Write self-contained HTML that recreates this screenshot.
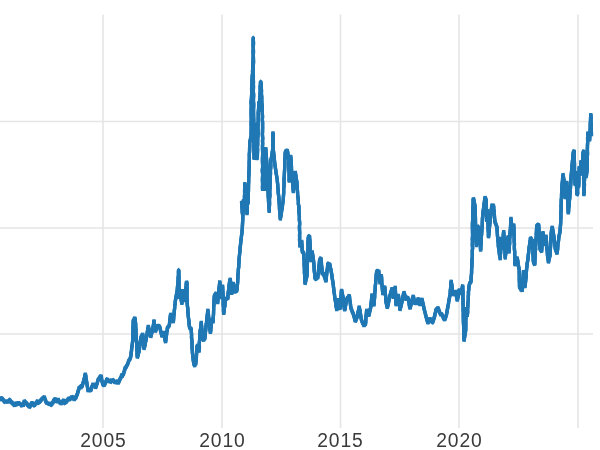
<!DOCTYPE html>
<html><head><meta charset="utf-8"><title>chart</title>
<style>
html,body{margin:0;padding:0;background:#fff;}
body{width:600px;height:450px;overflow:hidden;position:relative;font-family:"Liberation Sans",sans-serif;}
svg{position:absolute;left:0;top:0;display:block;}
.lbl{position:absolute;top:430.5px;width:60px;text-align:center;font-size:19.3px;line-height:20px;color:#3a3a3a;will-change:transform;letter-spacing:0.9px;padding-left:0.9px;box-sizing:border-box;white-space:nowrap;}
</style></head><body>
<svg width="600" height="450" viewBox="0 0 600 450">
<g stroke="#e5e5e5" stroke-width="1.6" fill="none">
<line x1="103" y1="14.5" x2="103" y2="428"/>
<line x1="222" y1="14.5" x2="222" y2="428"/>
<line x1="340.5" y1="14.5" x2="340.5" y2="428"/>
<line x1="459" y1="14.5" x2="459" y2="428"/>
<line x1="578" y1="14.5" x2="578" y2="428"/>
<line x1="0" y1="121.5" x2="593" y2="121.5"/>
<line x1="0" y1="228" x2="593" y2="228"/>
<line x1="0" y1="334" x2="593" y2="334"/>
</g>
<g fill="none" stroke="#1f77b4" stroke-width="3.3" stroke-linejoin="bevel" stroke-linecap="butt">
<polyline points="0.00,399.30 0.50,399.67 1.00,398.48 1.50,398.37 2.00,398.40 2.47,399.26 2.97,399.72 3.49,400.25 4.00,400.70 4.53,401.79 4.99,401.96 5.53,400.53 6.00,402.40 6.46,401.61 6.95,401.68 7.42,400.79 7.89,401.39 8.35,402.25 8.83,401.45 9.30,400.00 9.81,399.97 10.31,400.92 10.79,401.69 11.30,402.00 11.85,401.86 12.39,403.92 12.94,403.77 13.45,403.13 14.00,404.70 14.47,405.90 14.93,403.84 15.41,403.07 15.89,403.66 16.35,404.39 16.83,404.30 17.30,403.00 17.83,403.72 18.38,402.38 18.91,403.41 19.46,403.09 20.00,404.70 20.47,404.21 20.94,403.25 21.42,405.51 21.88,406.11 22.36,403.75 22.83,404.83 23.30,405.91 23.71,403.37 24.30,400.77 24.76,401.41 25.25,402.08 25.70,402.74 26.21,403.17 26.70,403.30 27.28,404.59 27.70,405.14 28.34,405.39 28.75,405.77 29.30,407.30 29.83,406.65 30.32,405.83 30.95,404.32 31.47,403.60 32.00,402.40 32.50,403.64 33.02,403.65 33.46,404.61 34.00,405.30 34.52,405.45 35.11,403.97 35.59,403.61 36.16,403.00 36.70,402.70 37.18,401.29 37.65,400.80 38.11,402.84 38.59,402.93 39.06,401.87 39.53,402.18 40.00,401.30 40.49,400.79 41.02,400.01 41.52,399.66 42.00,398.70 42.49,398.62 42.91,397.62 43.38,398.31 43.84,397.48 44.30,396.78 44.75,398.22 45.51,400.27 46.00,402.00 46.50,402.57 47.00,403.30 47.50,402.51 47.98,403.73 48.51,403.58 49.00,403.96 49.53,403.86 50.00,404.70 50.55,403.26 51.08,404.76 51.63,404.86 52.14,402.75 52.70,402.70 53.19,402.33 53.74,400.05 54.24,399.98 54.70,400.00 55.20,398.29 55.70,401.80 56.20,400.52 56.70,400.54 57.20,402.24 57.70,400.13 58.20,399.06 58.70,400.70 59.13,401.26 59.62,402.35 60.07,402.98 60.59,402.61 61.00,404.00 61.48,402.91 61.88,401.98 62.42,402.39 62.89,400.97 63.30,400.70 63.84,399.66 64.38,403.03 64.92,403.25 65.46,401.55 66.00,402.00 66.48,402.08 67.08,400.34 67.63,400.26 68.20,398.82 68.70,398.70 69.20,400.33 69.70,398.13 70.20,399.44 70.70,398.16 71.20,397.50 71.70,397.15 72.20,398.49 72.70,397.30 73.20,397.08 73.70,398.78 74.20,399.60 74.70,398.70 75.22,398.33 75.80,397.81 76.23,396.65 76.71,395.00 77.30,394.70 77.66,392.91 78.21,390.98 78.79,389.14 79.30,387.30 79.84,387.49 80.38,387.12 80.92,388.28 81.46,385.14 82.00,386.70 82.46,385.14 82.89,383.25 83.57,381.79 84.00,380.00 84.43,377.89 84.88,375.63 85.30,373.54 85.78,375.79 85.92,378.11 86.43,380.37 86.70,382.70 87.15,384.85 87.45,387.04 87.87,389.19 88.00,391.38 88.54,389.44 89.08,390.75 89.62,389.81 90.16,390.23 90.70,390.70 91.19,389.22 91.61,387.61 92.00,386.00 92.51,386.34 93.00,383.56 93.51,386.33 94.00,384.70 94.51,384.88 94.96,384.54 95.49,387.90 96.00,386.73 96.44,385.11 97.13,383.39 97.54,381.80 98.00,380.00 98.47,379.21 99.01,378.93 99.50,377.73 99.96,376.91 100.53,376.43 101.00,375.64 101.49,377.67 101.64,379.93 102.22,381.78 102.70,384.00 103.20,384.77 103.70,384.85 104.20,385.10 104.70,384.57 105.08,383.43 105.72,381.87 106.28,381.07 106.70,379.42 107.24,379.16 107.74,380.34 108.26,379.65 108.76,381.91 109.30,381.30 109.78,379.46 110.28,382.15 110.76,381.74 111.24,380.87 111.72,379.44 112.21,380.82 112.70,380.00 113.23,380.28 113.73,381.14 114.25,381.39 114.78,382.29 115.30,382.00 115.79,380.86 116.27,382.04 116.76,382.28 117.24,382.32 117.73,380.33 118.21,383.58 118.70,382.13 119.24,380.99 119.76,379.68 120.16,378.78 120.73,377.87 121.30,376.60 121.78,374.31 122.28,376.84 122.79,374.17 123.30,374.74 123.75,372.92 124.34,371.05 124.91,369.26 125.30,367.30 125.80,367.22 126.33,367.01 126.82,365.06 127.30,365.30 127.76,363.85 128.21,362.35 128.70,360.70 129.23,360.08 129.69,359.65 130.26,357.89 130.70,357.00 130.96,354.93 131.17,352.76 131.54,350.64 131.60,348.49 131.98,346.40 132.27,344.26 132.52,342.14 132.70,340.00 132.79,337.78 132.81,335.56 132.80,333.33 132.97,331.11 132.99,328.89 133.03,326.67 133.22,324.45 133.21,322.22 133.30,320.00 133.80,320.53 134.30,318.57 134.80,317.76 135.30,319.42 135.34,321.74 135.71,324.03 135.59,326.35 135.94,328.66 135.94,330.98 136.00,333.30 136.12,335.52 136.18,337.74 136.21,339.97 136.60,342.17 136.69,344.38 136.72,346.61 136.78,348.83 137.06,351.04 137.08,353.27 137.19,355.48 137.30,357.71 137.85,356.01 138.29,354.13 138.79,352.16 139.30,350.70 139.45,348.57 139.63,346.46 140.01,344.33 140.21,342.23 140.51,340.13 140.70,338.00 141.20,336.73 141.69,335.88 142.24,334.95 142.70,333.81 142.95,335.96 143.11,338.14 143.36,340.32 143.49,342.50 143.58,344.68 143.60,346.87 144.00,349.03 144.58,346.80 145.09,344.38 145.44,342.26 146.00,340.00 146.38,338.05 146.68,335.97 147.05,333.92 147.36,331.84 147.69,329.77 148.07,327.74 148.30,325.72 148.76,328.09 149.28,330.20 149.65,332.46 150.28,334.68 150.70,336.92 151.24,335.09 151.64,333.25 152.32,331.24 152.70,329.30 153.05,327.03 153.47,324.77 153.73,322.50 154.00,320.24 154.32,322.53 154.40,324.82 154.84,327.10 155.04,329.39 155.30,331.67 155.90,330.29 156.27,328.85 156.80,327.10 157.30,325.45 157.85,325.91 158.41,327.75 158.89,326.11 159.49,326.26 160.00,328.00 160.41,330.12 161.00,332.24 161.51,334.31 162.00,336.52 162.44,334.80 162.86,333.37 163.30,331.76 163.72,333.86 164.29,335.97 164.72,338.18 165.08,340.21 165.60,342.31 165.80,340.25 166.00,338.21 166.35,336.19 166.62,334.18 166.75,332.08 167.30,330.04 167.30,328.00 167.78,327.40 168.31,326.86 168.79,326.15 169.30,325.30 169.58,323.00 169.69,320.64 170.14,318.34 170.33,316.05 170.70,313.74 171.26,315.51 171.69,317.21 172.23,318.87 172.88,320.54 173.30,322.29 173.54,319.96 173.69,317.64 173.82,315.31 174.27,312.99 174.31,310.65 174.64,308.34 174.70,306.00 175.08,303.99 175.30,302.00 175.45,300.02 175.98,297.96 176.20,296.00 176.66,293.67 177.04,291.35 177.40,289.00 177.46,286.74 177.94,284.51 177.91,282.23 178.20,280.00 178.16,277.55 178.51,275.12 178.45,272.68 178.50,270.23 178.80,270.22 178.88,272.44 178.80,274.67 178.98,276.89 178.87,279.11 179.05,281.33 179.00,283.56 178.99,285.78 179.00,288.00 179.15,290.03 179.11,292.06 179.28,294.08 179.47,296.11 179.60,298.13 179.96,296.08 180.04,294.01 180.14,291.93 180.50,289.88 180.70,291.90 180.88,293.91 180.92,295.95 181.11,297.98 181.20,300.00 181.57,302.02 181.90,304.10 182.06,301.88 182.07,299.67 182.33,297.47 182.40,295.26 182.51,293.06 182.60,290.84 182.84,293.18 183.01,295.49 183.11,297.84 183.30,300.16 183.30,298.08 183.60,296.04 183.72,293.99 183.80,291.92 183.90,289.86 183.99,291.90 184.10,293.93 184.46,295.93 184.60,298.00 185.30,301.07 185.48,298.90 185.59,296.73 185.60,294.54 185.65,292.35 185.74,290.18 185.90,288.00 186.10,285.89 186.28,283.78 186.50,281.66 187.00,282.92 186.95,285.33 186.93,287.75 187.12,290.17 186.95,292.58 187.00,295.00 186.93,297.33 187.22,299.66 187.10,302.00 187.25,304.18 187.45,306.33 187.79,308.50 187.83,310.66 187.98,312.84 188.20,315.00 188.40,317.40 188.72,319.76 189.02,322.21 189.12,324.61 189.50,327.00 189.95,328.49 190.41,328.45 190.81,328.56 191.30,329.00 191.28,331.17 191.48,333.33 191.59,335.49 191.47,337.66 191.85,339.82 192.00,341.98 191.95,344.15 192.05,346.31 192.13,348.47 192.37,350.63 192.40,352.80 192.71,355.08 192.95,357.32 193.19,359.63 193.52,361.87 193.80,364.12 194.25,364.63 194.70,366.26 195.14,362.86 195.60,364.82 195.86,362.29 196.22,359.76 196.40,357.20 196.47,355.08 196.61,352.96 196.60,350.83 196.80,348.71 196.90,346.60 197.33,345.91 197.77,345.46 198.20,346.26 198.57,348.12 198.80,350.00 199.10,351.91 199.21,349.58 199.44,347.27 199.36,344.93 199.31,342.60 199.59,340.27 199.82,337.95 199.93,335.63 200.00,333.30 200.10,330.95 200.63,328.60 200.85,326.29 201.08,323.95 201.30,321.60 201.36,323.74 201.57,325.88 201.76,328.01 202.01,330.16 202.13,332.29 202.45,334.41 202.51,336.57 202.70,338.70 203.20,339.52 203.70,340.73 204.20,338.39 204.70,339.25 205.00,337.12 205.12,334.96 205.34,332.84 205.62,330.68 205.85,328.56 205.94,326.42 206.23,324.27 206.55,322.17 206.70,320.00 206.90,317.92 207.14,315.88 207.44,313.79 207.68,311.70 208.00,309.61 207.98,311.84 208.41,314.09 208.57,316.33 208.55,318.59 209.08,320.81 209.27,323.06 209.30,325.30 209.62,327.24 209.74,329.20 210.24,331.06 210.40,333.07 210.73,330.98 210.78,328.84 211.13,326.74 211.11,324.58 211.62,322.51 211.85,320.35 212.00,318.26 212.49,320.36 213.00,322.37 213.35,320.21 213.19,318.03 213.41,315.86 213.54,313.69 213.57,311.51 213.67,309.34 213.61,307.16 213.90,304.99 213.99,302.82 213.99,300.64 214.24,298.48 214.30,296.30 214.79,294.69 215.35,294.74 215.80,293.63 216.30,292.87 216.56,294.97 216.95,297.05 217.19,299.16 217.52,301.29 217.70,303.39 217.78,301.17 218.01,298.95 218.42,296.75 218.43,294.51 218.71,292.28 218.84,290.08 219.06,287.86 219.37,285.66 219.58,283.44 219.70,281.21 219.98,283.32 220.22,285.42 220.47,287.51 220.73,289.66 221.04,291.76 221.15,293.89 221.27,295.97 221.70,298.11 221.83,295.93 222.09,293.81 221.92,291.61 222.35,289.46 222.50,287.28 222.60,285.13 222.60,287.36 222.77,289.59 222.79,291.82 222.92,294.05 223.24,296.28 223.09,298.52 223.28,300.74 223.22,302.98 223.24,305.22 223.53,307.43 223.45,309.68 223.53,311.91 223.70,314.13 223.90,312.03 224.28,309.97 224.29,307.86 224.92,305.89 224.89,303.72 225.22,301.66 225.56,299.60 225.70,297.51 226.21,299.02 226.71,298.49 227.20,298.43 227.70,299.10 227.95,296.86 227.97,294.59 228.24,292.38 228.56,290.17 228.83,287.94 229.00,285.70 229.37,283.31 229.70,280.96 230.30,278.65 230.46,280.86 230.71,283.06 230.82,285.27 231.03,287.48 231.28,289.69 231.55,291.87 231.70,294.08 231.95,291.77 232.47,289.58 232.66,287.25 233.08,284.98 233.30,282.66 233.54,284.59 234.03,286.59 234.20,288.57 234.73,290.47 235.00,292.46 235.48,291.34 236.05,290.81 236.50,291.43 237.00,289.70 237.25,287.63 237.23,285.54 237.58,283.48 237.69,281.40 237.77,279.31 237.91,277.24 237.88,275.15 238.18,273.08 238.30,271.00 238.41,268.80 238.77,266.62 238.75,264.39 239.04,262.21 239.00,260.00 239.22,257.76 239.44,255.54 239.67,253.34 239.89,251.12 240.03,248.90 240.27,246.64 240.54,244.43 240.69,242.21 241.00,240.00 241.29,237.78 241.51,235.63 241.84,233.40 242.05,231.20 242.30,229.00 242.40,226.72 242.49,224.42 242.60,222.14 242.76,219.86 242.81,217.58 242.80,215.28 243.00,213.00 243.14,210.65 243.35,208.40 243.72,206.08 243.91,203.82 244.30,201.53 243.83,201.01 243.37,203.32 242.90,202.96 242.43,201.77 241.97,203.30 241.50,201.50 241.70,203.61 241.81,205.72 242.05,207.80 242.22,209.91 242.22,212.04 242.50,214.14 242.55,211.76 242.92,209.38 243.17,207.02 243.36,204.63 243.38,202.26 243.50,199.87 243.75,202.31 243.94,204.72 244.30,207.16 244.22,204.94 244.34,202.73 244.47,200.52 244.48,198.30 244.48,196.09 244.65,193.88 244.59,191.66 244.61,189.45 244.82,187.24 244.84,185.02 244.80,182.81 244.83,185.11 245.20,187.39 245.26,189.70 245.36,191.99 245.40,194.29 245.53,196.58 245.61,198.88 245.80,201.17 245.92,199.09 246.11,197.03 245.93,194.95 246.24,192.89 246.30,190.81 246.47,192.96 246.44,195.12 246.51,197.27 246.59,199.42 246.51,201.58 246.53,203.74 246.80,205.88 246.87,208.03 246.95,210.19 246.90,212.35 247.00,214.50 247.10,212.26 247.19,210.02 247.35,207.78 247.20,205.54 247.44,203.31 247.36,201.06 247.60,198.83 247.80,201.49 248.00,204.18 248.01,202.03 248.22,199.89 248.10,197.74 248.29,195.60 248.32,193.45 248.44,191.31 248.47,189.16 248.51,187.02 248.49,184.87 248.63,182.73 248.66,180.58 248.66,178.43 248.75,176.29 249.00,174.15 248.90,172.00 249.17,169.81 249.12,167.60 249.28,165.41 249.17,163.20 249.30,161.00 249.37,158.80 249.37,156.60 249.32,154.40 249.49,152.20 249.60,150.00 249.58,148.00 249.78,146.00 249.62,144.00 249.80,142.00 250.33,139.97 250.62,137.92 251.20,136.00 251.14,133.75 251.18,131.50 251.24,129.25 251.32,127.00 251.16,124.75 251.18,122.50 251.33,120.25 251.28,118.00 251.20,115.75 251.17,113.50 251.19,111.25 251.17,109.00 251.34,106.75 251.30,104.50 251.02,102.25 251.30,100.00 251.50,97.86 251.56,95.72 251.67,93.57 251.74,91.43 251.58,89.28 251.68,87.14 251.90,85.00 252.06,82.73 251.92,80.45 252.26,78.19 252.21,75.91 252.64,73.65 252.53,71.36 252.65,69.09 252.87,66.82 252.75,64.54 252.95,62.27 253.10,60.00 253.14,57.79 253.23,55.58 253.16,53.38 253.09,51.17 253.27,48.96 253.21,46.75 253.04,44.54 253.22,42.34 253.10,40.13 253.20,37.92 253.40,37.92 253.32,40.06 253.48,42.19 253.45,44.33 253.35,46.47 253.35,48.61 253.45,50.75 253.46,52.89 253.24,55.03 253.41,57.17 253.44,59.31 253.53,61.44 253.45,63.58 253.22,65.72 253.22,67.86 253.40,70.00 253.26,72.22 253.29,74.44 253.43,76.67 253.18,78.89 253.47,81.11 253.39,83.33 253.42,85.56 253.48,87.78 253.30,90.00 253.35,92.22 253.60,94.44 253.57,96.67 253.43,98.89 253.43,101.11 253.64,103.33 253.68,105.56 253.57,107.78 253.50,110.00 253.51,112.27 253.57,114.55 253.61,116.82 253.69,119.09 253.78,121.36 253.42,123.64 253.75,125.91 253.74,128.18 253.74,130.45 253.64,132.73 253.70,135.00 253.82,137.20 253.62,139.40 253.88,141.60 253.94,143.80 253.95,146.00 253.84,148.20 253.92,150.40 254.02,152.60 254.02,154.80 254.14,157.00 254.00,159.20 254.14,156.96 254.12,154.71 254.37,152.47 254.50,150.23 254.49,147.98 254.42,145.73 254.69,143.49 254.86,141.25 254.97,139.01 255.01,136.76 255.38,134.53 255.44,132.28 255.54,130.04 255.64,127.80 255.80,125.55 255.80,123.30 255.94,125.48 255.77,127.65 256.03,129.82 256.02,132.00 256.05,134.17 256.12,136.34 256.10,138.52 256.14,140.69 256.16,142.86 256.29,145.03 256.21,147.21 256.39,149.38 256.40,151.55 256.46,153.73 256.60,155.90 256.50,158.07 256.90,158.68 257.30,158.07 257.39,155.87 257.44,153.66 257.53,151.46 257.58,149.25 257.34,147.04 257.69,144.85 257.59,142.64 257.63,140.43 257.73,138.23 257.92,136.03 258.00,133.82 258.03,131.62 257.92,129.41 257.94,127.20 258.00,125.00 258.07,122.89 258.30,120.79 258.18,118.68 258.29,116.57 258.26,114.46 258.22,112.36 258.50,110.26 258.58,108.15 258.79,106.05 258.74,103.94 258.80,101.83 259.03,104.17 259.06,106.52 259.36,108.84 259.50,111.17 259.48,108.92 259.50,106.67 259.81,104.43 259.69,102.18 259.78,99.92 259.79,97.68 260.14,95.43 259.98,93.18 260.37,90.94 260.14,88.68 260.20,86.43 260.51,84.19 260.40,81.93 260.90,81.94 261.07,84.11 261.30,86.28 261.33,88.46 261.50,90.62 261.41,92.80 261.48,94.98 261.77,97.14 261.69,99.31 261.70,101.50 261.91,103.65 262.16,105.82 262.20,108.00 262.14,110.13 262.37,112.25 262.35,114.37 262.54,116.50 262.37,118.63 262.40,120.75 262.62,122.87 262.55,125.00 262.62,127.27 262.55,129.55 262.52,131.82 262.40,134.09 262.54,136.36 262.74,138.64 262.46,140.91 262.68,143.18 262.53,145.45 262.48,147.73 262.55,150.00 262.64,152.23 262.65,154.47 262.54,156.70 262.46,158.94 262.45,161.17 262.55,163.41 262.64,165.64 262.59,167.88 262.28,170.11 262.50,172.35 262.65,174.58 262.56,176.82 262.43,179.05 262.48,181.29 262.59,183.52 262.58,185.76 262.57,187.99 262.60,190.22 262.48,188.03 262.51,185.84 262.83,183.65 262.79,181.46 263.11,179.28 262.99,177.08 262.91,174.88 263.09,172.69 263.15,170.51 263.56,168.32 263.34,166.13 263.40,163.93 263.64,161.75 263.55,159.55 263.63,157.36 263.50,155.16 263.78,152.98 263.80,150.79 263.83,152.98 263.91,155.17 264.06,157.36 263.89,159.55 264.00,161.74 264.09,163.93 264.07,166.12 264.12,168.31 264.16,170.50 263.97,172.70 264.19,174.88 264.13,177.07 264.24,179.26 264.16,181.46 264.31,183.64 264.51,185.83 264.41,188.02 264.50,190.21 264.53,187.98 264.63,185.75 264.66,183.52 264.87,181.30 264.81,179.06 264.92,176.83 264.99,174.60 265.06,172.37 264.98,170.14 265.33,167.92 265.39,165.68 265.23,163.44 265.24,161.21 265.38,158.99 265.25,156.75 265.73,154.53 265.64,152.30 265.66,150.06 265.70,147.83 265.87,149.97 266.01,152.13 266.16,154.27 266.35,156.42 266.46,158.56 266.64,160.72 266.78,162.86 267.00,165.00 267.14,167.27 267.11,169.55 267.29,171.82 267.33,174.09 267.54,176.36 267.56,178.64 267.75,180.90 267.68,183.18 267.81,185.46 267.92,187.72 268.00,190.00 268.13,192.22 268.21,194.43 268.26,196.65 268.50,198.87 268.51,201.09 268.67,203.31 268.77,205.54 269.00,207.75 269.17,209.96 269.20,212.18 269.38,209.92 269.22,207.65 269.51,205.39 269.55,203.12 269.47,200.86 269.48,198.59 269.85,196.33 269.84,194.06 269.68,191.79 269.85,189.53 270.00,187.27 270.00,185.00 270.10,182.73 270.16,180.46 270.29,178.18 270.31,175.91 270.54,173.64 270.39,171.36 270.56,169.09 270.76,166.82 270.78,164.55 270.70,162.27 270.90,160.00 271.34,158.03 271.80,156.00 272.06,154.00 272.26,151.95 272.70,150.00 272.81,147.76 272.77,145.52 272.92,143.28 272.77,141.04 272.95,138.80 272.74,136.55 272.98,134.32 273.00,132.08 273.03,134.32 273.33,136.55 273.04,138.80 273.07,141.04 273.08,143.28 273.00,145.52 273.26,147.76 273.30,150.00 273.58,151.98 273.78,154.00 274.07,156.00 274.20,158.00 274.45,160.41 274.65,162.81 274.99,165.20 275.33,167.57 275.70,170.00 276.00,172.20 276.38,174.38 276.69,176.57 277.17,178.76 277.30,181.00 277.54,183.10 277.77,185.21 277.80,187.34 278.10,189.46 278.16,191.57 278.33,193.67 278.63,195.79 278.86,197.88 279.00,200.00 279.11,202.20 279.31,204.40 279.45,206.60 279.48,208.80 279.65,210.99 279.99,213.18 279.97,215.40 280.27,217.58 280.30,219.79 280.53,217.80 280.88,215.91 281.22,213.99 281.50,212.00 281.72,210.01 282.18,208.01 282.44,205.99 282.61,203.97 282.95,202.08 283.30,200.00 283.34,197.82 283.50,195.64 283.64,193.46 283.75,191.28 283.61,189.09 283.90,186.91 284.09,184.73 284.08,182.55 284.03,180.36 284.07,178.17 284.35,176.00 284.38,173.81 284.49,171.63 284.61,169.45 284.71,167.27 284.76,165.09 284.86,162.91 284.69,160.72 284.94,158.54 285.16,156.36 285.14,154.18 285.30,152.00 285.78,151.70 286.30,150.42 286.78,151.04 287.30,149.99 287.64,152.00 287.82,153.95 288.23,155.98 288.39,158.02 288.70,160.00 288.68,162.19 288.86,164.38 288.80,166.57 288.84,168.76 288.94,170.95 289.25,173.13 289.09,175.32 289.28,177.51 289.09,179.70 289.30,181.89 289.09,179.67 289.42,177.49 289.61,175.30 289.69,173.11 289.75,170.91 289.95,168.71 290.19,166.53 290.13,164.32 290.18,162.12 290.57,159.94 290.46,157.73 290.70,155.54 290.76,157.71 291.16,159.85 291.09,162.04 291.11,164.20 291.47,166.35 291.45,168.52 291.59,170.67 291.78,172.84 292.00,175.00 292.12,177.19 292.43,179.35 292.47,181.54 292.74,183.70 292.99,185.89 292.99,188.06 293.28,190.24 293.30,192.42 293.47,190.12 293.82,187.81 294.03,185.48 294.16,183.17 294.30,180.86 294.62,178.58 294.55,176.21 295.00,173.92 295.30,171.63 295.56,173.74 295.90,175.80 296.16,177.92 296.50,180.00 296.86,182.15 297.00,184.30 297.05,186.49 297.24,188.64 297.46,190.80 297.59,192.99 297.65,195.16 298.00,197.30 298.24,199.50 298.41,201.72 298.30,203.96 298.85,206.13 298.93,208.36 298.97,210.58 298.97,212.79 299.30,215.00 299.41,217.27 299.32,219.53 299.59,221.80 299.66,224.07 299.44,226.34 299.49,228.60 299.57,230.87 299.70,233.13 299.55,235.40 299.63,237.67 299.53,239.94 299.69,242.20 299.77,244.47 299.70,246.74 300.18,245.25 300.79,243.92 301.17,242.28 301.70,240.69 301.79,242.90 301.94,245.10 302.10,247.29 302.10,249.51 302.30,251.70 302.75,252.47 303.23,252.23 303.70,253.00 303.96,255.21 303.87,257.43 304.07,259.65 304.24,261.87 304.10,264.09 304.33,266.30 304.40,268.52 304.46,270.74 304.43,272.96 304.68,275.17 304.77,277.39 304.78,279.61 305.03,281.82 305.00,284.04 305.48,282.08 305.92,279.93 306.44,277.74 307.00,275.70 307.04,273.45 307.24,271.21 307.17,268.96 307.40,266.72 307.31,264.46 307.45,262.22 307.51,259.97 307.72,257.73 307.67,255.48 307.90,253.23 307.98,250.98 307.97,248.74 308.14,246.49 308.02,244.24 308.03,241.99 308.20,239.74 308.30,237.50 308.75,236.55 309.16,236.21 309.60,236.00 309.56,238.13 309.85,240.23 309.92,242.36 310.03,244.48 310.21,246.59 310.22,248.71 310.46,250.82 310.47,252.94 310.67,255.06 310.90,257.18 310.89,259.30 311.00,261.42 311.34,259.36 311.51,257.35 311.85,255.29 312.10,253.28 312.30,251.23 312.46,253.49 312.81,255.71 313.14,257.86 313.45,260.06 313.70,262.30 313.89,264.53 314.08,266.80 314.17,269.05 314.32,271.30 314.64,273.52 314.88,275.78 315.00,278.04 315.54,278.81 316.08,278.87 316.62,277.88 317.16,277.83 317.70,278.30 317.88,276.18 318.14,274.15 318.49,272.06 318.52,269.95 318.89,267.89 318.98,265.79 319.24,263.71 319.44,261.60 319.70,259.54 320.13,259.46 320.54,258.43 321.00,258.00 321.11,260.33 321.43,262.67 321.48,265.00 321.83,267.32 322.08,269.63 322.05,271.99 322.30,274.30 322.87,273.75 323.43,272.97 324.00,275.00 324.46,276.70 325.03,278.29 325.45,279.90 326.00,281.46 326.26,279.26 326.38,277.02 326.59,274.81 326.81,272.58 327.07,270.36 327.42,268.15 327.61,265.94 327.70,263.70 328.20,263.54 328.70,264.83 329.20,264.23 329.70,263.93 330.11,266.00 330.40,268.06 331.03,270.04 331.33,272.19 331.70,274.30 332.02,276.40 332.20,278.49 332.62,280.52 332.93,282.67 333.30,284.70 333.47,287.08 333.78,289.54 334.07,291.88 334.45,294.31 334.70,296.70 335.00,298.96 335.44,301.27 335.81,303.55 336.03,305.81 336.48,308.05 336.70,310.36 337.02,308.06 337.40,305.80 337.38,303.51 337.78,301.26 338.00,298.97 338.43,300.97 338.82,302.97 339.40,305.03 339.58,307.05 340.00,309.05 340.12,306.89 340.35,304.74 340.63,302.57 340.73,300.42 340.86,298.28 340.97,296.10 341.19,293.96 341.34,291.78 341.60,289.64 341.98,292.05 342.47,294.51 342.94,296.86 343.30,299.30 343.57,301.51 343.90,303.72 343.95,305.93 344.26,308.09 344.70,310.32 345.21,308.12 345.51,305.90 345.85,303.64 346.27,301.55 346.70,299.30 347.26,298.37 347.72,297.38 348.21,297.51 348.80,296.09 349.30,295.21 349.57,297.20 349.66,299.26 350.08,301.26 350.33,303.27 350.55,305.27 350.70,307.30 351.19,308.73 351.68,309.86 352.17,311.59 352.78,312.74 353.30,314.00 353.85,315.82 354.39,317.67 354.79,319.66 355.30,321.38 355.85,320.40 356.28,318.98 356.78,317.91 357.30,316.70 357.55,314.63 357.98,312.50 358.50,310.44 359.03,308.41 359.30,306.31 359.51,308.53 360.01,310.65 360.20,312.81 360.63,314.95 360.96,317.12 361.30,319.30 361.84,320.83 362.30,322.04 362.91,323.49 363.48,324.45 364.00,326.00 364.45,324.88 364.88,324.54 365.30,325.05 365.66,322.86 365.77,320.69 365.82,318.49 366.03,316.26 366.36,314.11 366.48,311.88 366.70,309.71 367.20,311.22 367.72,312.75 368.31,314.23 368.70,315.88 369.33,313.87 369.67,311.53 370.23,309.52 370.70,307.30 370.98,305.12 371.15,302.95 371.47,300.80 371.61,298.62 371.75,296.44 372.00,294.25 372.43,296.56 372.73,298.84 373.26,301.09 373.59,303.47 374.00,305.78 374.12,303.58 374.10,301.37 374.44,299.18 374.65,297.00 374.68,294.78 374.81,292.59 375.06,290.39 375.25,288.20 375.30,286.00 375.57,283.91 375.74,281.83 375.88,279.70 376.14,277.61 376.18,275.49 376.44,273.40 376.70,271.30 377.20,271.14 377.70,271.05 378.19,271.45 378.70,270.39 378.87,272.63 379.17,274.84 379.37,277.10 379.58,279.33 380.01,281.52 380.00,283.78 380.35,281.57 380.52,279.30 381.08,277.10 381.30,274.90 381.54,277.05 381.66,279.22 381.71,281.37 381.79,283.54 382.13,285.71 382.24,287.85 382.45,290.01 382.63,292.17 382.70,294.33 383.26,292.36 383.60,290.50 384.13,288.28 384.70,286.28 384.88,288.53 385.10,290.77 385.07,293.03 385.54,295.26 385.70,297.50 385.80,299.76 386.00,302.00 386.45,303.99 386.88,305.79 387.30,307.81 387.86,305.52 388.39,303.23 388.84,301.01 389.30,298.70 389.65,296.40 390.30,294.52 390.79,292.34 391.54,290.22 392.00,288.02 392.20,290.02 392.52,292.04 392.75,294.05 393.06,296.02 393.30,298.04 393.66,295.76 393.97,293.39 394.47,291.15 394.88,288.78 395.30,286.60 395.41,288.69 395.38,290.77 395.56,292.86 395.57,294.95 395.59,297.03 395.71,299.12 395.92,301.20 395.98,303.28 396.00,305.37 396.43,303.18 396.99,301.13 397.48,299.00 397.79,296.87 398.30,294.68 398.60,296.85 398.80,299.05 398.93,301.24 399.24,303.43 399.62,305.59 399.78,307.81 400.00,310.00 400.52,307.96 401.00,305.82 401.53,303.71 402.00,301.70 402.40,299.24 402.89,296.80 403.44,294.39 404.00,292.01 404.50,293.93 405.03,295.84 405.49,297.91 406.00,299.97 406.51,297.85 406.98,298.85 407.43,297.87 408.00,297.50 408.39,299.74 408.92,301.95 409.19,304.15 409.54,306.43 410.00,308.66 410.50,306.53 411.04,304.49 411.58,302.44 412.00,300.30 412.39,298.72 412.93,297.19 413.30,295.66 413.62,297.70 414.01,299.59 414.34,301.70 414.70,303.70 415.20,302.70 415.70,303.57 416.20,302.80 416.70,303.80 417.26,301.84 417.70,300.29 418.30,298.26 418.77,300.66 419.34,302.92 420.00,305.14 420.39,303.65 421.08,302.02 421.37,300.44 422.00,298.73 422.40,301.12 422.99,303.56 423.51,305.97 424.00,308.30 424.49,310.36 424.99,312.18 425.57,314.53 426.00,316.30 426.48,318.17 426.92,319.95 427.46,321.42 428.00,323.20 428.50,321.61 428.99,320.98 429.38,319.59 430.00,318.40 430.51,319.78 431.11,319.65 431.68,320.25 432.14,322.44 432.70,322.30 433.06,321.12 433.59,319.58 434.00,318.30 434.66,316.01 435.00,314.01 435.66,312.01 436.00,309.70 436.55,309.30 437.02,309.52 437.51,308.34 438.00,307.56 438.51,309.04 439.08,310.86 439.53,311.88 440.00,313.69 440.43,313.63 440.87,315.47 441.30,313.65 441.79,314.44 442.30,315.38 442.78,316.33 443.11,317.36 443.77,318.63 444.18,319.19 444.70,319.79 445.25,318.39 445.74,316.94 446.26,315.42 446.70,313.70 446.99,311.69 447.31,309.73 447.77,307.69 448.08,305.80 448.47,303.68 448.70,301.70 449.13,299.50 449.56,297.25 450.00,295.00 450.29,292.95 450.27,290.88 450.55,288.82 450.69,286.75 450.82,284.69 451.02,282.61 451.30,280.59 451.40,282.67 451.76,284.76 452.11,286.84 452.17,288.93 452.34,291.01 452.49,293.09 452.70,295.17 453.15,293.73 453.74,293.98 454.24,292.79 454.79,291.93 455.30,290.89 455.62,292.78 456.08,294.81 456.52,296.72 456.96,298.66 457.30,300.69 457.61,298.52 458.23,296.20 458.56,293.89 458.68,291.55 459.30,289.41 459.79,290.87 460.30,291.46 460.81,292.60 461.30,293.96 461.54,291.74 461.97,289.53 462.28,287.33 462.70,285.17 462.72,287.31 462.81,289.44 462.98,291.56 462.98,293.69 462.90,295.83 462.85,297.96 463.12,300.08 463.01,302.22 463.00,304.35 463.26,306.48 463.07,308.61 463.19,310.74 463.39,312.87 463.30,315.00 463.34,317.18 463.37,319.35 463.40,321.53 463.49,323.70 463.63,325.88 463.91,328.05 463.74,330.23 463.94,332.40 463.82,334.58 463.92,336.76 464.01,338.93 464.00,341.11 464.29,338.90 464.67,336.67 465.05,334.49 465.41,332.24 465.70,330.00 465.71,327.79 465.73,325.57 465.81,323.36 465.69,321.14 465.88,318.93 465.92,316.72 465.89,314.51 465.85,312.29 465.95,310.08 466.00,307.87 466.43,309.94 466.62,311.96 467.06,314.06 467.30,316.10 467.47,313.93 467.68,311.76 467.55,309.57 467.75,307.40 467.89,305.22 467.89,303.04 468.25,300.88 468.36,298.71 468.25,296.52 468.52,294.35 468.39,292.17 468.70,290.00 468.87,288.00 469.07,285.98 469.50,284.00 469.97,282.61 470.49,282.53 471.00,281.70 471.06,279.47 471.24,277.25 471.37,275.03 471.59,272.81 471.57,270.58 471.65,268.35 471.89,266.13 471.84,263.90 472.11,261.68 471.97,259.45 472.37,257.23 472.30,255.00 472.36,252.75 472.27,250.49 472.65,248.24 472.36,245.99 472.36,243.74 472.49,241.48 472.32,239.23 472.52,236.98 472.58,234.72 472.52,232.47 472.50,230.22 472.42,227.96 472.42,225.71 472.47,223.46 472.59,221.21 472.69,218.95 472.60,216.70 472.78,214.40 472.70,212.08 472.82,209.77 472.97,207.47 473.06,205.16 473.24,202.85 473.09,200.53 473.40,198.23 473.95,200.18 474.12,202.15 474.62,204.04 475.00,206.00 475.05,208.25 475.19,210.50 475.11,212.75 475.25,215.00 475.43,217.24 475.45,219.49 475.48,221.74 475.52,223.99 475.62,226.24 475.67,228.49 475.92,230.73 475.88,232.99 475.96,235.23 475.87,237.49 475.91,239.74 476.17,241.98 476.30,244.23 476.30,246.48 476.38,244.21 476.64,241.94 476.73,239.67 476.91,237.40 476.95,235.13 477.00,232.86 477.25,230.60 477.45,228.34 477.50,226.06 478.01,226.72 478.50,228.00 478.73,230.28 478.90,232.56 478.86,234.85 479.24,237.14 479.57,239.42 479.76,241.68 479.93,243.98 480.36,246.25 480.48,248.53 480.60,250.83 480.78,248.55 480.85,246.27 481.06,243.98 481.18,241.70 481.10,239.39 481.31,237.13 481.56,234.85 481.67,232.57 481.86,230.29 482.00,228.00 482.21,225.73 482.28,223.43 482.39,221.14 482.42,218.84 482.63,216.56 482.97,214.29 483.00,212.00 483.39,209.90 483.65,207.77 483.81,205.62 484.12,203.46 484.53,201.42 484.63,199.25 485.00,197.09 485.55,198.40 486.20,200.00 486.21,202.12 486.24,204.24 486.44,206.35 486.28,208.48 486.34,210.59 486.53,212.71 486.45,214.83 486.51,216.95 486.55,219.07 486.60,221.18 486.56,218.90 487.14,216.66 486.92,214.36 487.11,212.09 487.40,209.83 487.46,211.96 487.53,214.08 487.56,216.21 487.82,218.32 487.79,220.45 487.97,222.57 488.13,224.69 488.09,226.82 488.16,228.95 488.22,231.07 488.44,233.19 488.38,235.32 488.50,237.44 488.75,235.23 488.94,233.03 489.23,230.83 489.32,228.62 489.58,226.43 489.76,224.20 490.00,222.00 490.22,219.74 490.51,217.49 490.61,215.23 491.13,212.96 491.11,210.67 491.49,208.39 491.70,206.16 492.20,204.49 492.70,208.16 493.20,204.77 493.70,206.70 493.76,208.90 494.10,211.07 494.12,213.27 494.44,215.44 494.53,217.62 494.69,219.82 495.00,222.00 495.45,223.07 496.05,224.53 496.45,225.72 497.00,227.30 497.09,229.38 497.18,231.46 497.39,233.54 497.42,235.62 497.72,237.70 497.86,239.77 498.08,241.84 498.36,243.91 498.30,246.00 498.69,248.18 499.08,250.49 499.27,252.67 499.49,254.94 500.00,257.18 500.30,259.41 500.26,257.22 500.37,255.04 500.60,252.86 500.69,250.68 500.70,248.49 500.76,246.30 500.71,244.12 500.83,241.94 500.82,239.75 501.00,237.57 501.35,239.86 501.54,242.20 501.93,244.46 502.28,246.75 502.50,249.11 502.75,246.84 502.97,244.56 502.98,242.27 503.19,239.98 503.28,237.71 503.25,235.39 503.46,233.13 503.70,230.85 503.72,233.01 503.90,235.16 504.07,237.31 504.23,239.46 504.25,241.63 504.65,243.76 504.62,245.93 504.65,248.09 504.80,250.23 505.16,252.39 505.03,254.54 505.15,256.71 505.40,258.85 505.33,256.70 505.61,254.57 505.79,252.42 505.86,250.27 506.24,248.14 506.30,246.00 506.56,244.13 507.24,242.16 507.46,240.07 507.78,238.19 508.30,236.23 508.27,238.32 508.48,240.39 508.59,242.47 508.46,244.56 508.66,246.64 508.85,248.71 509.04,250.79 509.00,252.87 509.08,250.66 509.26,248.46 509.28,246.25 509.63,244.05 509.67,241.84 509.57,239.63 509.84,237.42 509.99,235.22 509.97,233.00 510.27,230.80 510.45,228.61 510.54,226.39 510.62,224.18 510.74,221.98 510.85,219.77 511.00,217.57 510.97,219.68 511.37,221.79 511.54,223.88 511.84,225.99 511.95,228.10 512.27,230.20 512.33,232.30 512.60,234.40 512.88,232.39 512.88,230.29 513.16,228.22 513.46,226.21 513.70,224.15 513.76,226.32 513.97,228.48 513.90,230.66 514.11,232.82 514.12,234.99 514.16,237.16 514.18,239.33 514.19,241.50 514.45,243.67 514.39,245.84 514.34,248.01 514.52,250.18 514.74,252.34 514.59,254.52 514.88,256.68 514.89,258.85 514.85,261.02 514.78,263.20 515.00,265.36 515.46,263.42 516.02,261.29 516.56,259.52 517.00,257.35 517.50,259.51 517.88,261.63 518.15,263.96 518.52,266.14 519.00,268.30 519.27,270.52 519.22,272.74 519.34,274.96 519.34,277.19 519.34,279.41 519.38,281.64 519.54,283.85 519.46,286.08 519.70,288.30 520.22,287.62 520.77,288.27 521.24,290.73 521.79,289.61 522.30,291.04 522.43,288.80 522.43,286.54 522.69,284.32 522.84,282.07 522.85,279.81 523.13,277.58 523.22,275.34 523.41,273.10 523.50,270.86 523.56,272.94 523.83,275.01 523.97,277.08 524.40,279.11 524.27,281.22 524.58,283.28 524.87,285.33 525.00,287.41 525.14,285.25 525.43,283.09 525.64,280.92 525.84,278.72 526.15,276.57 526.31,274.40 526.37,272.21 526.50,270.02 526.72,267.86 527.00,265.70 527.14,263.54 527.55,261.46 527.94,259.30 528.12,257.14 528.30,255.00 528.61,252.84 528.80,250.67 529.00,248.51 529.38,246.33 529.64,244.21 529.89,242.04 530.27,239.92 530.50,237.72 531.09,238.46 531.58,240.01 532.14,240.51 532.70,241.00 532.91,243.22 532.67,245.45 532.69,247.67 532.99,249.89 532.97,252.11 532.91,254.34 533.19,256.55 533.24,258.78 533.30,261.00 533.72,262.53 534.18,263.67 534.70,264.98 534.87,262.72 534.81,260.44 535.09,258.17 535.21,255.90 535.38,253.64 535.12,251.34 535.67,249.09 535.47,246.81 535.80,244.55 535.78,242.26 536.00,240.00 536.12,237.93 536.41,235.86 536.24,233.76 536.50,231.70 536.49,229.61 536.67,227.54 536.70,225.46 537.20,225.30 537.70,226.24 538.20,224.69 538.70,224.30 538.74,226.54 538.96,228.79 538.96,231.04 539.10,233.29 539.43,235.51 539.54,237.77 539.51,240.02 539.57,242.27 539.66,244.52 539.84,246.76 540.00,249.00 540.59,250.05 541.11,250.51 541.60,251.89 541.72,249.66 541.91,247.44 541.97,245.21 542.15,242.98 542.39,240.78 542.50,238.54 542.82,236.35 542.82,234.10 543.00,231.88 543.23,234.14 543.49,236.30 543.71,238.45 544.10,240.64 544.21,242.87 544.50,245.06 544.95,243.11 545.13,241.13 545.41,239.23 545.72,237.24 546.00,235.22 546.04,237.32 546.26,239.41 546.48,241.51 546.65,243.60 546.67,245.71 546.91,247.82 547.08,249.91 547.30,252.00 547.40,254.17 547.59,256.28 547.79,258.44 548.34,260.54 548.40,262.71 548.83,260.35 549.35,257.94 550.00,255.70 550.15,253.55 550.16,251.39 550.35,249.24 550.47,247.08 550.67,244.93 550.66,242.77 550.79,240.61 550.90,238.46 551.18,236.31 551.16,234.15 551.30,232.00 551.78,229.25 552.30,226.69 552.62,229.00 553.03,231.35 553.32,233.64 553.84,235.90 554.00,238.30 554.26,240.44 554.48,242.59 554.82,244.69 555.14,246.85 555.30,249.00 555.94,250.73 556.52,252.00 557.00,253.94 557.23,251.68 557.63,249.47 557.72,247.23 557.90,244.97 558.05,242.76 558.55,240.58 558.70,238.30 559.02,236.11 559.57,233.94 560.00,231.70 560.09,229.30 560.36,226.91 560.56,224.51 560.71,222.11 560.70,219.70 560.93,217.45 560.83,215.19 560.90,212.93 561.04,210.68 561.20,208.43 561.02,206.17 561.20,203.91 561.27,201.66 561.30,199.40 561.57,197.29 561.52,195.16 561.62,193.03 561.89,190.91 561.83,188.78 561.89,186.65 562.06,184.54 562.28,182.40 562.55,180.30 562.59,178.18 562.84,176.06 562.90,173.93 563.32,175.81 563.59,178.03 564.00,180.00 564.21,182.30 564.30,184.62 564.45,186.95 564.46,189.27 564.73,191.59 564.77,193.90 565.16,196.20 565.20,198.53 565.29,196.40 565.59,194.31 565.81,192.20 565.97,190.10 566.28,188.00 566.54,185.88 566.58,183.79 566.80,181.66 566.88,183.79 567.03,185.92 567.14,188.05 567.21,190.19 567.22,192.32 567.39,194.45 567.47,196.58 567.49,198.72 567.74,200.85 567.74,202.98 567.85,205.12 568.07,207.24 568.13,209.38 568.17,211.51 568.30,213.64 568.58,211.49 568.61,209.30 568.88,207.16 569.24,205.00 569.41,202.86 569.34,200.66 569.73,198.52 569.82,196.34 569.97,194.16 570.20,192.00 570.34,189.90 570.45,187.78 570.61,185.66 570.76,183.56 570.80,181.44 570.93,179.32 571.15,177.22 571.17,175.10 571.40,173.00 571.61,170.70 571.78,168.39 571.90,166.07 572.28,163.78 572.40,161.47 572.68,159.18 572.90,156.87 573.02,154.56 573.30,152.25 573.85,151.27 574.30,150.60 574.27,152.74 574.36,154.88 574.22,157.02 574.39,159.16 574.34,161.30 574.48,163.44 574.47,165.58 574.47,167.72 574.47,169.86 574.60,172.00 574.70,174.19 574.88,176.39 574.86,178.59 575.03,180.78 574.99,182.98 575.20,185.17 575.34,182.95 575.40,180.71 575.70,178.51 575.73,176.27 575.88,174.06 576.00,171.83 576.20,174.12 576.07,176.43 576.12,178.72 576.30,181.02 576.40,183.31 576.52,185.61 576.60,187.91 576.71,190.21 576.86,192.50 576.90,194.80 577.33,194.48 577.70,193.23 577.51,190.93 577.60,188.62 577.98,186.32 577.76,184.02 577.52,181.71 577.47,179.41 577.74,177.10 577.80,174.80 577.90,176.86 577.96,178.93 578.16,181.01 578.37,183.06 578.54,185.12 578.60,187.18 578.76,184.92 578.83,182.67 578.93,180.41 578.86,178.15 578.79,175.88 579.05,173.63 579.25,171.38 579.16,169.11 579.20,166.85 579.56,168.91 579.68,170.99 579.94,173.07 580.20,175.13 580.24,172.74 580.30,170.37 580.50,167.98 580.81,165.62 580.96,163.25 581.00,160.87 581.06,163.21 581.49,165.50 581.77,167.83 582.00,170.13 582.32,167.90 582.17,165.65 582.51,163.41 582.49,161.16 582.74,158.94 582.76,156.69 583.03,154.45 583.10,152.22 583.58,151.37 584.00,150.60 583.79,152.71 584.01,154.83 583.95,156.95 583.89,159.07 584.02,161.19 583.70,163.30 583.90,165.42 583.88,167.53 583.66,169.65 583.82,171.77 583.76,173.88 583.70,176.00 583.55,178.17 583.73,180.34 583.70,182.50 584.00,184.67 583.75,186.84 583.84,189.01 583.94,191.17 583.83,193.34 583.90,195.51 584.00,193.32 584.13,191.14 584.08,188.94 584.36,186.76 584.46,184.57 584.33,182.38 584.46,180.19 584.60,178.00 584.70,175.97 584.81,173.94 584.79,171.92 585.09,169.89 585.10,167.86 585.30,165.85 585.53,168.07 585.57,170.36 585.80,172.59 585.89,174.83 586.10,177.09 586.50,175.15 586.65,173.28 587.00,171.40 587.17,169.23 587.08,167.04 587.14,164.87 587.25,162.69 587.29,160.51 587.25,158.34 587.33,156.16 587.53,153.99 587.45,151.80 587.38,149.63 587.45,147.45 587.46,145.27 587.62,143.10 587.64,140.92 587.56,138.74 587.70,136.56 587.74,134.38 587.80,132.21 588.30,134.34 588.61,136.48 589.11,138.65 589.60,140.77 589.67,138.52 589.79,136.28 589.95,134.03 590.11,131.79 590.15,129.55 590.26,127.29 590.30,125.05 590.34,122.79 590.54,120.55 590.56,118.30 590.65,116.05 590.80,113.81 590.88,115.99 591.09,118.16 590.86,120.35 591.07,122.53 591.24,124.70 591.38,126.88 591.27,129.06 591.40,131.24 591.39,133.42 591.50,135.60"/>
<polyline points="0.00,399.30 0.50,399.67 1.00,398.48 1.50,398.37 2.00,398.40 2.47,399.26 2.97,399.72 3.49,400.25 4.00,400.70 4.53,401.79 4.99,401.96 5.53,400.53 6.00,402.40 6.46,401.61 6.95,401.68 7.42,400.79 7.89,401.39 8.35,402.25 8.83,401.45 9.30,400.00 9.81,399.97 10.31,400.92 10.79,401.69 11.30,402.00 11.85,401.86 12.39,403.92 12.94,403.77 13.45,403.13 14.00,404.70 14.47,405.90 14.93,403.84 15.41,403.07 15.89,403.66 16.35,404.39 16.83,404.30 17.30,403.00 17.83,403.72 18.38,402.38 18.91,403.41 19.46,403.09 20.00,404.70 20.47,404.21 20.94,403.25 21.42,405.51 21.88,406.11 22.36,403.75 22.83,404.83 23.30,405.91 23.71,403.37 24.30,400.77 24.76,401.41 25.25,402.08 25.70,402.74 26.21,403.17 26.70,403.30 27.28,404.59 27.70,405.14 28.34,405.39 28.75,405.77 29.30,407.30 29.83,406.65 30.32,405.83 30.95,404.32 31.47,403.60 32.00,402.40 32.50,403.64 33.02,403.65 33.46,404.61 34.00,405.30 34.52,405.45 35.11,403.97 35.59,403.61 36.16,403.00 36.70,402.70 37.18,401.29 37.65,400.80 38.11,402.84 38.59,402.93 39.06,401.87 39.53,402.18 40.00,401.30 40.49,400.79 41.02,400.01 41.52,399.66 42.00,398.70 42.49,398.62 42.91,397.62 43.38,398.31 43.84,397.48 44.30,396.78 44.75,398.22 45.51,400.27 46.00,402.00 46.50,402.57 47.00,403.30 47.50,402.51 47.98,403.73 48.51,403.58 49.00,403.96 49.53,403.86 50.00,404.70 50.55,403.26 51.08,404.76 51.63,404.86 52.14,402.75 52.70,402.70 53.19,402.33 53.74,400.05 54.24,399.98 54.70,400.00 55.20,398.29 55.70,401.80 56.20,400.52 56.70,400.54 57.20,402.24 57.70,400.13 58.20,399.06 58.70,400.70 59.13,401.26 59.62,402.35 60.07,402.98 60.59,402.61 61.00,404.00 61.48,402.91 61.88,401.98 62.42,402.39 62.89,400.97 63.30,400.70 63.84,399.66 64.38,403.03 64.92,403.25 65.46,401.55 66.00,402.00 66.48,402.08 67.08,400.34 67.63,400.26 68.20,398.82 68.70,398.70 69.20,400.33 69.70,398.13 70.20,399.44 70.70,398.16 71.20,397.50 71.70,397.15 72.20,398.49 72.70,397.30 73.20,397.08 73.70,398.78 74.20,399.60 74.70,398.70 75.22,398.33 75.80,397.81 76.23,396.65 76.71,395.00 77.30,394.70 77.66,392.91 78.21,390.98 78.79,389.14 79.30,387.30 79.84,387.49 80.38,387.12 80.92,388.28 81.46,385.14 82.00,386.70 82.46,385.14 82.89,383.25 83.57,381.79 84.00,380.00 84.43,377.89 84.88,375.63 85.30,373.54 85.78,375.79 85.92,378.11 86.43,380.37 86.70,382.70 87.15,384.85 87.45,387.04 87.87,389.19 88.00,391.38 88.54,389.44 89.08,390.75 89.62,389.81 90.16,390.23 90.70,390.70 91.19,389.22 91.61,387.61 92.00,386.00 92.51,386.34 93.00,383.56 93.51,386.33 94.00,384.70 94.51,384.88 94.96,384.54 95.49,387.90 96.00,386.73 96.44,385.11 97.13,383.39 97.54,381.80 98.00,380.00 98.47,379.21 99.01,378.93 99.50,377.73 99.96,376.91 100.53,376.43 101.00,375.64 101.49,377.67 101.64,379.93 102.22,381.78 102.70,384.00 103.20,384.77 103.70,384.85 104.20,385.10 104.70,384.57 105.08,383.43 105.72,381.87 106.28,381.07 106.70,379.42 107.24,379.16 107.74,380.34 108.26,379.65 108.76,381.91 109.30,381.30 109.78,379.46 110.28,382.15 110.76,381.74 111.24,380.87 111.72,379.44 112.21,380.82 112.70,380.00 113.23,380.28 113.73,381.14 114.25,381.39 114.78,382.29 115.30,382.00 115.79,380.86 116.27,382.04 116.76,382.28 117.24,382.32 117.73,380.33 118.21,383.58 118.70,382.13 119.24,380.99 119.76,379.68 120.16,378.78 120.73,377.87 121.30,376.60 121.78,374.31 122.28,376.84 122.79,374.17 123.30,374.74 123.75,372.92 124.34,371.05 124.91,369.26 125.30,367.30 125.80,367.22 126.33,367.01 126.82,365.06 127.30,365.30 127.76,363.85 128.21,362.35 128.70,360.70 129.23,360.08 129.69,359.65 130.26,357.89 130.70,357.00 130.96,354.93 131.17,352.76 131.54,350.64 131.60,348.49 131.98,346.40 132.27,344.26 132.52,342.14 132.70,340.00 132.79,337.78 132.81,335.56 132.80,333.33 132.97,331.11 132.99,328.89 133.03,326.67 133.22,324.45 133.21,322.22 133.30,320.00 133.80,320.53 134.30,318.57 134.80,317.76 135.30,319.42 135.34,321.74 135.71,324.03 135.59,326.35 135.94,328.66 135.94,330.98 136.00,333.30 136.12,335.52 136.18,337.74 136.21,339.97 136.60,342.17 136.69,344.38 136.72,346.61 136.78,348.83 137.06,351.04 137.08,353.27 137.19,355.48 137.30,357.71 137.85,356.01 138.29,354.13 138.79,352.16 139.30,350.70 139.45,348.57 139.63,346.46 140.01,344.33 140.21,342.23 140.51,340.13 140.70,338.00 141.20,336.73 141.69,335.88 142.24,334.95 142.70,333.81 142.95,335.96 143.11,338.14 143.36,340.32 143.49,342.50 143.58,344.68 143.60,346.87 144.00,349.03 144.58,346.80 145.09,344.38 145.44,342.26 146.00,340.00 146.38,338.05 146.68,335.97 147.05,333.92 147.36,331.84 147.69,329.77 148.07,327.74 148.30,325.72 148.76,328.09 149.28,330.20 149.65,332.46 150.28,334.68 150.70,336.92 151.24,335.09 151.64,333.25 152.32,331.24 152.70,329.30 153.05,327.03 153.47,324.77 153.73,322.50 154.00,320.24 154.32,322.53 154.40,324.82 154.84,327.10 155.04,329.39 155.30,331.67 155.90,330.29 156.27,328.85 156.80,327.10 157.30,325.45 157.85,325.91 158.41,327.75 158.89,326.11 159.49,326.26 160.00,328.00 160.41,330.12 161.00,332.24 161.51,334.31 162.00,336.52 162.44,334.80 162.86,333.37 163.30,331.76 163.72,333.86 164.29,335.97 164.72,338.18 165.08,340.21 165.60,342.31 165.80,340.25 166.00,338.21 166.35,336.19 166.62,334.18 166.75,332.08 167.30,330.04 167.30,328.00 167.78,327.40 168.31,326.86 168.79,326.15 169.30,325.30 169.58,323.00 169.69,320.64 170.14,318.34 170.33,316.05 170.70,313.74 171.26,315.51 171.69,317.21 172.23,318.87 172.88,320.54 173.30,322.29 173.54,319.96 173.69,317.64 173.82,315.31 174.27,312.99 174.31,310.65 174.64,308.34 174.70,306.00 175.08,303.99 175.30,302.00 175.45,300.02 175.98,297.96 176.20,296.00 176.66,293.67 177.04,291.35 177.40,289.00 177.46,286.74 177.94,284.51 177.91,282.23 178.20,280.00 178.16,277.55 178.51,275.12 178.45,272.68 178.50,270.23 178.80,270.22 178.88,272.44 178.80,274.67 178.98,276.89 178.87,279.11 179.05,281.33 179.00,283.56 178.99,285.78 179.00,288.00 179.15,290.03 179.11,292.06 179.28,294.08 179.47,296.11 179.60,298.13 179.96,296.08 180.04,294.01 180.14,291.93 180.50,289.88 180.70,291.90 180.88,293.91 180.92,295.95 181.11,297.98 181.20,300.00 181.57,302.02 181.90,304.10 182.06,301.88 182.07,299.67 182.33,297.47 182.40,295.26 182.51,293.06 182.60,290.84 182.84,293.18 183.01,295.49 183.11,297.84 183.30,300.16 183.30,298.08 183.60,296.04 183.72,293.99 183.80,291.92 183.90,289.86 183.99,291.90 184.10,293.93 184.46,295.93 184.60,298.00 185.30,301.07 185.48,298.90 185.59,296.73 185.60,294.54 185.65,292.35 185.74,290.18 185.90,288.00 186.10,285.89 186.28,283.78 186.50,281.66 187.00,282.92 186.95,285.33 186.93,287.75 187.12,290.17 186.95,292.58 187.00,295.00 186.93,297.33 187.22,299.66 187.10,302.00 187.25,304.18 187.45,306.33 187.79,308.50 187.83,310.66 187.98,312.84 188.20,315.00 188.40,317.40 188.72,319.76 189.02,322.21 189.12,324.61 189.50,327.00 189.95,328.49 190.41,328.45 190.81,328.56 191.30,329.00 191.28,331.17 191.48,333.33 191.59,335.49 191.47,337.66 191.85,339.82 192.00,341.98 191.95,344.15 192.05,346.31 192.13,348.47 192.37,350.63 192.40,352.80 192.71,355.08 192.95,357.32 193.19,359.63 193.52,361.87 193.80,364.12 194.25,364.63 194.70,366.26 195.14,362.86 195.60,364.82 195.86,362.29 196.22,359.76 196.40,357.20 196.47,355.08 196.61,352.96 196.60,350.83 196.80,348.71 196.90,346.60 197.33,345.91 197.77,345.46 198.20,346.26 198.57,348.12 198.80,350.00 199.10,351.91 199.21,349.58 199.44,347.27 199.36,344.93 199.31,342.60 199.59,340.27 199.82,337.95 199.93,335.63 200.00,333.30 200.10,330.95 200.63,328.60 200.85,326.29 201.08,323.95 201.30,321.60 201.36,323.74 201.57,325.88 201.76,328.01 202.01,330.16 202.13,332.29 202.45,334.41 202.51,336.57 202.70,338.70 203.20,339.52 203.70,340.73 204.20,338.39 204.70,339.25 205.00,337.12 205.12,334.96 205.34,332.84 205.62,330.68 205.85,328.56 205.94,326.42 206.23,324.27 206.55,322.17 206.70,320.00 206.90,317.92 207.14,315.88 207.44,313.79 207.68,311.70 208.00,309.61 207.98,311.84 208.41,314.09 208.57,316.33 208.55,318.59 209.08,320.81 209.27,323.06 209.30,325.30 209.62,327.24 209.74,329.20 210.24,331.06 210.40,333.07 210.73,330.98 210.78,328.84 211.13,326.74 211.11,324.58 211.62,322.51 211.85,320.35 212.00,318.26 212.49,320.36 213.00,322.37 213.35,320.21 213.19,318.03 213.41,315.86 213.54,313.69 213.57,311.51 213.67,309.34 213.61,307.16 213.90,304.99 213.99,302.82 213.99,300.64 214.24,298.48 214.30,296.30 214.79,294.69 215.35,294.74 215.80,293.63 216.30,292.87 216.56,294.97 216.95,297.05 217.19,299.16 217.52,301.29 217.70,303.39 217.78,301.17 218.01,298.95 218.42,296.75 218.43,294.51 218.71,292.28 218.84,290.08 219.06,287.86 219.37,285.66 219.58,283.44 219.70,281.21 219.98,283.32 220.22,285.42 220.47,287.51 220.73,289.66 221.04,291.76 221.15,293.89 221.27,295.97 221.70,298.11 221.83,295.93 222.09,293.81 221.92,291.61 222.35,289.46 222.50,287.28 222.60,285.13 222.60,287.36 222.77,289.59 222.79,291.82 222.92,294.05 223.24,296.28 223.09,298.52 223.28,300.74 223.22,302.98 223.24,305.22 223.53,307.43 223.45,309.68 223.53,311.91 223.70,314.13 223.90,312.03 224.28,309.97 224.29,307.86 224.92,305.89 224.89,303.72 225.22,301.66 225.56,299.60 225.70,297.51 226.21,299.02 226.71,298.49 227.20,298.43 227.70,299.10 227.95,296.86 227.97,294.59 228.24,292.38 228.56,290.17 228.83,287.94 229.00,285.70 229.37,283.31 229.70,280.96 230.30,278.65 230.46,280.86 230.71,283.06 230.82,285.27 231.03,287.48 231.28,289.69 231.55,291.87 231.70,294.08 231.95,291.77 232.47,289.58 232.66,287.25 233.08,284.98 233.30,282.66 233.54,284.59 234.03,286.59 234.20,288.57 234.73,290.47 235.00,292.46 235.48,291.34 236.05,290.81 236.50,291.43 237.00,289.70 237.25,287.63 237.23,285.54 237.58,283.48 237.69,281.40 237.77,279.31 237.91,277.24 237.88,275.15 238.18,273.08 238.30,271.00 238.41,268.80 238.77,266.62 238.75,264.39 239.04,262.21 239.00,260.00 239.22,257.76 239.44,255.54 239.67,253.34 239.89,251.12 240.03,248.90 240.27,246.64 240.54,244.43 240.69,242.21 241.00,240.00 241.29,237.78 241.51,235.63 241.84,233.40 242.05,231.20 242.30,229.00 242.40,226.72 242.49,224.42 242.60,222.14 242.76,219.86 242.81,217.58 242.80,215.28 243.00,213.00 243.14,210.65 243.35,208.40 243.72,206.08 243.91,203.82 244.30,201.53 243.83,201.01 243.37,203.32 242.90,202.96 242.43,201.77 241.97,203.30 241.50,201.50 241.70,203.61 241.81,205.72 242.05,207.80 242.22,209.91 242.22,212.04 242.50,214.14 242.55,211.76 242.92,209.38 243.17,207.02 243.36,204.63 243.38,202.26 243.50,199.87 243.75,202.31 243.94,204.72 244.30,207.16 244.22,204.94 244.34,202.73 244.47,200.52 244.48,198.30 244.48,196.09 244.65,193.88 244.59,191.66 244.61,189.45 244.82,187.24 244.84,185.02 244.80,182.81 244.83,185.11 245.20,187.39 245.26,189.70 245.36,191.99 245.40,194.29 245.53,196.58 245.61,198.88 245.80,201.17 245.92,199.09 246.11,197.03 245.93,194.95 246.24,192.89 246.30,190.81 246.47,192.96 246.44,195.12 246.51,197.27 246.59,199.42 246.51,201.58 246.53,203.74 246.80,205.88 246.87,208.03 246.95,210.19 246.90,212.35 247.00,214.50 247.10,212.26 247.19,210.02 247.35,207.78 247.20,205.54 247.44,203.31 247.36,201.06 247.60,198.83 247.80,201.49 248.00,204.18 248.01,202.03 248.22,199.89 248.10,197.74 248.29,195.60 248.32,193.45 248.44,191.31 248.47,189.16 248.51,187.02 248.49,184.87 248.63,182.73 248.66,180.58 248.66,178.43 248.75,176.29 249.00,174.15 248.90,172.00 249.17,169.81 249.12,167.60 249.28,165.41 249.17,163.20 249.30,161.00 249.37,158.80 249.37,156.60 249.32,154.40 249.49,152.20 249.60,150.00 249.58,148.00 249.78,146.00 249.62,144.00 249.80,142.00 250.33,139.97 250.62,137.92 251.20,136.00 251.14,133.75 251.18,131.50 251.24,129.25 251.32,127.00 251.16,124.75 251.18,122.50 251.33,120.25 251.28,118.00 251.20,115.75 251.17,113.50 251.19,111.25 251.17,109.00 251.34,106.75 251.30,104.50 251.02,102.25 251.30,100.00 251.50,97.86 251.56,95.72 251.67,93.57 251.74,91.43 251.58,89.28 251.68,87.14 251.90,85.00 252.06,82.73 251.92,80.45 252.26,78.19 252.21,75.91 252.64,73.65 252.53,71.36 252.65,69.09 252.87,66.82 252.75,64.54 252.95,62.27 253.10,60.00 253.14,57.79 253.23,55.58 253.16,53.38 253.09,51.17 253.27,48.96 253.21,46.75 253.04,44.54 253.22,42.34 253.10,40.13 253.20,37.92 253.40,37.92 253.32,40.06 253.48,42.19 253.45,44.33 253.35,46.47 253.35,48.61 253.45,50.75 253.46,52.89 253.24,55.03 253.41,57.17 253.44,59.31 253.53,61.44 253.45,63.58 253.22,65.72 253.22,67.86 253.40,70.00 253.26,72.22 253.29,74.44 253.43,76.67 253.18,78.89 253.47,81.11 253.39,83.33 253.42,85.56 253.48,87.78 253.30,90.00 253.35,92.22 253.60,94.44 253.57,96.67 253.43,98.89 253.43,101.11 253.64,103.33 253.68,105.56 253.57,107.78 253.50,110.00 253.51,112.27 253.57,114.55 253.61,116.82 253.69,119.09 253.78,121.36 253.42,123.64 253.75,125.91 253.74,128.18 253.74,130.45 253.64,132.73 253.70,135.00 253.82,137.20 253.62,139.40 253.88,141.60 253.94,143.80 253.95,146.00 253.84,148.20 253.92,150.40 254.02,152.60 254.02,154.80 254.14,157.00 254.00,159.20 254.14,156.96 254.12,154.71 254.37,152.47 254.50,150.23 254.49,147.98 254.42,145.73 254.69,143.49 254.86,141.25 254.97,139.01 255.01,136.76 255.38,134.53 255.44,132.28 255.54,130.04 255.64,127.80 255.80,125.55 255.80,123.30 255.94,125.48 255.77,127.65 256.03,129.82 256.02,132.00 256.05,134.17 256.12,136.34 256.10,138.52 256.14,140.69 256.16,142.86 256.29,145.03 256.21,147.21 256.39,149.38 256.40,151.55 256.46,153.73 256.60,155.90 256.50,158.07 256.90,158.68 257.30,158.07 257.39,155.87 257.44,153.66 257.53,151.46 257.58,149.25 257.34,147.04 257.69,144.85 257.59,142.64 257.63,140.43 257.73,138.23 257.92,136.03 258.00,133.82 258.03,131.62 257.92,129.41 257.94,127.20 258.00,125.00 258.07,122.89 258.30,120.79 258.18,118.68 258.29,116.57 258.26,114.46 258.22,112.36 258.50,110.26 258.58,108.15 258.79,106.05 258.74,103.94 258.80,101.83 259.03,104.17 259.06,106.52 259.36,108.84 259.50,111.17 259.48,108.92 259.50,106.67 259.81,104.43 259.69,102.18 259.78,99.92 259.79,97.68 260.14,95.43 259.98,93.18 260.37,90.94 260.14,88.68 260.20,86.43 260.51,84.19 260.40,81.93 260.90,81.94 261.07,84.11 261.30,86.28 261.33,88.46 261.50,90.62 261.41,92.80 261.48,94.98 261.77,97.14 261.69,99.31 261.70,101.50 261.91,103.65 262.16,105.82 262.20,108.00 262.14,110.13 262.37,112.25 262.35,114.37 262.54,116.50 262.37,118.63 262.40,120.75 262.62,122.87 262.55,125.00 262.62,127.27 262.55,129.55 262.52,131.82 262.40,134.09 262.54,136.36 262.74,138.64 262.46,140.91 262.68,143.18 262.53,145.45 262.48,147.73 262.55,150.00 262.64,152.23 262.65,154.47 262.54,156.70 262.46,158.94 262.45,161.17 262.55,163.41 262.64,165.64 262.59,167.88 262.28,170.11 262.50,172.35 262.65,174.58 262.56,176.82 262.43,179.05 262.48,181.29 262.59,183.52 262.58,185.76 262.57,187.99 262.60,190.22 262.48,188.03 262.51,185.84 262.83,183.65 262.79,181.46 263.11,179.28 262.99,177.08 262.91,174.88 263.09,172.69 263.15,170.51 263.56,168.32 263.34,166.13 263.40,163.93 263.64,161.75 263.55,159.55 263.63,157.36 263.50,155.16 263.78,152.98 263.80,150.79 263.83,152.98 263.91,155.17 264.06,157.36 263.89,159.55 264.00,161.74 264.09,163.93 264.07,166.12 264.12,168.31 264.16,170.50 263.97,172.70 264.19,174.88 264.13,177.07 264.24,179.26 264.16,181.46 264.31,183.64 264.51,185.83 264.41,188.02 264.50,190.21 264.53,187.98 264.63,185.75 264.66,183.52 264.87,181.30 264.81,179.06 264.92,176.83 264.99,174.60 265.06,172.37 264.98,170.14 265.33,167.92 265.39,165.68 265.23,163.44 265.24,161.21 265.38,158.99 265.25,156.75 265.73,154.53 265.64,152.30 265.66,150.06 265.70,147.83 265.87,149.97 266.01,152.13 266.16,154.27 266.35,156.42 266.46,158.56 266.64,160.72 266.78,162.86 267.00,165.00 267.14,167.27 267.11,169.55 267.29,171.82 267.33,174.09 267.54,176.36 267.56,178.64 267.75,180.90 267.68,183.18 267.81,185.46 267.92,187.72 268.00,190.00 268.13,192.22 268.21,194.43 268.26,196.65 268.50,198.87 268.51,201.09 268.67,203.31 268.77,205.54 269.00,207.75 269.17,209.96 269.20,212.18 269.38,209.92 269.22,207.65 269.51,205.39 269.55,203.12 269.47,200.86 269.48,198.59 269.85,196.33 269.84,194.06 269.68,191.79 269.85,189.53 270.00,187.27 270.00,185.00 270.10,182.73 270.16,180.46 270.29,178.18 270.31,175.91 270.54,173.64 270.39,171.36 270.56,169.09 270.76,166.82 270.78,164.55 270.70,162.27 270.90,160.00 271.34,158.03 271.80,156.00 272.06,154.00 272.26,151.95 272.70,150.00 272.81,147.76 272.77,145.52 272.92,143.28 272.77,141.04 272.95,138.80 272.74,136.55 272.98,134.32 273.00,132.08 273.03,134.32 273.33,136.55 273.04,138.80 273.07,141.04 273.08,143.28 273.00,145.52 273.26,147.76 273.30,150.00 273.58,151.98 273.78,154.00 274.07,156.00 274.20,158.00 274.45,160.41 274.65,162.81 274.99,165.20 275.33,167.57 275.70,170.00 276.00,172.20 276.38,174.38 276.69,176.57 277.17,178.76 277.30,181.00 277.54,183.10 277.77,185.21 277.80,187.34 278.10,189.46 278.16,191.57 278.33,193.67 278.63,195.79 278.86,197.88 279.00,200.00 279.11,202.20 279.31,204.40 279.45,206.60 279.48,208.80 279.65,210.99 279.99,213.18 279.97,215.40 280.27,217.58 280.30,219.79 280.53,217.80 280.88,215.91 281.22,213.99 281.50,212.00 281.72,210.01 282.18,208.01 282.44,205.99 282.61,203.97 282.95,202.08 283.30,200.00 283.34,197.82 283.50,195.64 283.64,193.46 283.75,191.28 283.61,189.09 283.90,186.91 284.09,184.73 284.08,182.55 284.03,180.36 284.07,178.17 284.35,176.00 284.38,173.81 284.49,171.63 284.61,169.45 284.71,167.27 284.76,165.09 284.86,162.91 284.69,160.72 284.94,158.54 285.16,156.36 285.14,154.18 285.30,152.00 285.78,151.70 286.30,150.42 286.78,151.04 287.30,149.99 287.64,152.00 287.82,153.95 288.23,155.98 288.39,158.02 288.70,160.00 288.68,162.19 288.86,164.38 288.80,166.57 288.84,168.76 288.94,170.95 289.25,173.13 289.09,175.32 289.28,177.51 289.09,179.70 289.30,181.89 289.09,179.67 289.42,177.49 289.61,175.30 289.69,173.11 289.75,170.91 289.95,168.71 290.19,166.53 290.13,164.32 290.18,162.12 290.57,159.94 290.46,157.73 290.70,155.54 290.76,157.71 291.16,159.85 291.09,162.04 291.11,164.20 291.47,166.35 291.45,168.52 291.59,170.67 291.78,172.84 292.00,175.00 292.12,177.19 292.43,179.35 292.47,181.54 292.74,183.70 292.99,185.89 292.99,188.06 293.28,190.24 293.30,192.42 293.47,190.12 293.82,187.81 294.03,185.48 294.16,183.17 294.30,180.86 294.62,178.58 294.55,176.21 295.00,173.92 295.30,171.63 295.56,173.74 295.90,175.80 296.16,177.92 296.50,180.00 296.86,182.15 297.00,184.30 297.05,186.49 297.24,188.64 297.46,190.80 297.59,192.99 297.65,195.16 298.00,197.30 298.24,199.50 298.41,201.72 298.30,203.96 298.85,206.13 298.93,208.36 298.97,210.58 298.97,212.79 299.30,215.00 299.41,217.27 299.32,219.53 299.59,221.80 299.66,224.07 299.44,226.34 299.49,228.60 299.57,230.87 299.70,233.13 299.55,235.40 299.63,237.67 299.53,239.94 299.69,242.20 299.77,244.47 299.70,246.74 300.18,245.25 300.79,243.92 301.17,242.28 301.70,240.69 301.79,242.90 301.94,245.10 302.10,247.29 302.10,249.51 302.30,251.70 302.75,252.47 303.23,252.23 303.70,253.00 303.96,255.21 303.87,257.43 304.07,259.65 304.24,261.87 304.10,264.09 304.33,266.30 304.40,268.52 304.46,270.74 304.43,272.96 304.68,275.17 304.77,277.39 304.78,279.61 305.03,281.82 305.00,284.04 305.48,282.08 305.92,279.93 306.44,277.74 307.00,275.70 307.04,273.45 307.24,271.21 307.17,268.96 307.40,266.72 307.31,264.46 307.45,262.22 307.51,259.97 307.72,257.73 307.67,255.48 307.90,253.23 307.98,250.98 307.97,248.74 308.14,246.49 308.02,244.24 308.03,241.99 308.20,239.74 308.30,237.50 308.75,236.55 309.16,236.21 309.60,236.00 309.56,238.13 309.85,240.23 309.92,242.36 310.03,244.48 310.21,246.59 310.22,248.71 310.46,250.82 310.47,252.94 310.67,255.06 310.90,257.18 310.89,259.30 311.00,261.42 311.34,259.36 311.51,257.35 311.85,255.29 312.10,253.28 312.30,251.23 312.46,253.49 312.81,255.71 313.14,257.86 313.45,260.06 313.70,262.30 313.89,264.53 314.08,266.80 314.17,269.05 314.32,271.30 314.64,273.52 314.88,275.78 315.00,278.04 315.54,278.81 316.08,278.87 316.62,277.88 317.16,277.83 317.70,278.30 317.88,276.18 318.14,274.15 318.49,272.06 318.52,269.95 318.89,267.89 318.98,265.79 319.24,263.71 319.44,261.60 319.70,259.54 320.13,259.46 320.54,258.43 321.00,258.00 321.11,260.33 321.43,262.67 321.48,265.00 321.83,267.32 322.08,269.63 322.05,271.99 322.30,274.30 322.87,273.75 323.43,272.97 324.00,275.00 324.46,276.70 325.03,278.29 325.45,279.90 326.00,281.46 326.26,279.26 326.38,277.02 326.59,274.81 326.81,272.58 327.07,270.36 327.42,268.15 327.61,265.94 327.70,263.70 328.20,263.54 328.70,264.83 329.20,264.23 329.70,263.93 330.11,266.00 330.40,268.06 331.03,270.04 331.33,272.19 331.70,274.30 332.02,276.40 332.20,278.49 332.62,280.52 332.93,282.67 333.30,284.70 333.47,287.08 333.78,289.54 334.07,291.88 334.45,294.31 334.70,296.70 335.00,298.96 335.44,301.27 335.81,303.55 336.03,305.81 336.48,308.05 336.70,310.36 337.02,308.06 337.40,305.80 337.38,303.51 337.78,301.26 338.00,298.97 338.43,300.97 338.82,302.97 339.40,305.03 339.58,307.05 340.00,309.05 340.12,306.89 340.35,304.74 340.63,302.57 340.73,300.42 340.86,298.28 340.97,296.10 341.19,293.96 341.34,291.78 341.60,289.64 341.98,292.05 342.47,294.51 342.94,296.86 343.30,299.30 343.57,301.51 343.90,303.72 343.95,305.93 344.26,308.09 344.70,310.32 345.21,308.12 345.51,305.90 345.85,303.64 346.27,301.55 346.70,299.30 347.26,298.37 347.72,297.38 348.21,297.51 348.80,296.09 349.30,295.21 349.57,297.20 349.66,299.26 350.08,301.26 350.33,303.27 350.55,305.27 350.70,307.30 351.19,308.73 351.68,309.86 352.17,311.59 352.78,312.74 353.30,314.00 353.85,315.82 354.39,317.67 354.79,319.66 355.30,321.38 355.85,320.40 356.28,318.98 356.78,317.91 357.30,316.70 357.55,314.63 357.98,312.50 358.50,310.44 359.03,308.41 359.30,306.31 359.51,308.53 360.01,310.65 360.20,312.81 360.63,314.95 360.96,317.12 361.30,319.30 361.84,320.83 362.30,322.04 362.91,323.49 363.48,324.45 364.00,326.00 364.45,324.88 364.88,324.54 365.30,325.05 365.66,322.86 365.77,320.69 365.82,318.49 366.03,316.26 366.36,314.11 366.48,311.88 366.70,309.71 367.20,311.22 367.72,312.75 368.31,314.23 368.70,315.88 369.33,313.87 369.67,311.53 370.23,309.52 370.70,307.30 370.98,305.12 371.15,302.95 371.47,300.80 371.61,298.62 371.75,296.44 372.00,294.25 372.43,296.56 372.73,298.84 373.26,301.09 373.59,303.47 374.00,305.78 374.12,303.58 374.10,301.37 374.44,299.18 374.65,297.00 374.68,294.78 374.81,292.59 375.06,290.39 375.25,288.20 375.30,286.00 375.57,283.91 375.74,281.83 375.88,279.70 376.14,277.61 376.18,275.49 376.44,273.40 376.70,271.30 377.20,271.14 377.70,271.05 378.19,271.45 378.70,270.39 378.87,272.63 379.17,274.84 379.37,277.10 379.58,279.33 380.01,281.52 380.00,283.78 380.35,281.57 380.52,279.30 381.08,277.10 381.30,274.90 381.54,277.05 381.66,279.22 381.71,281.37 381.79,283.54 382.13,285.71 382.24,287.85 382.45,290.01 382.63,292.17 382.70,294.33 383.26,292.36 383.60,290.50 384.13,288.28 384.70,286.28 384.88,288.53 385.10,290.77 385.07,293.03 385.54,295.26 385.70,297.50 385.80,299.76 386.00,302.00 386.45,303.99 386.88,305.79 387.30,307.81 387.86,305.52 388.39,303.23 388.84,301.01 389.30,298.70 389.65,296.40 390.30,294.52 390.79,292.34 391.54,290.22 392.00,288.02 392.20,290.02 392.52,292.04 392.75,294.05 393.06,296.02 393.30,298.04 393.66,295.76 393.97,293.39 394.47,291.15 394.88,288.78 395.30,286.60 395.41,288.69 395.38,290.77 395.56,292.86 395.57,294.95 395.59,297.03 395.71,299.12 395.92,301.20 395.98,303.28 396.00,305.37 396.43,303.18 396.99,301.13 397.48,299.00 397.79,296.87 398.30,294.68 398.60,296.85 398.80,299.05 398.93,301.24 399.24,303.43 399.62,305.59 399.78,307.81 400.00,310.00 400.52,307.96 401.00,305.82 401.53,303.71 402.00,301.70 402.40,299.24 402.89,296.80 403.44,294.39 404.00,292.01 404.50,293.93 405.03,295.84 405.49,297.91 406.00,299.97 406.51,297.85 406.98,298.85 407.43,297.87 408.00,297.50 408.39,299.74 408.92,301.95 409.19,304.15 409.54,306.43 410.00,308.66 410.50,306.53 411.04,304.49 411.58,302.44 412.00,300.30 412.39,298.72 412.93,297.19 413.30,295.66 413.62,297.70 414.01,299.59 414.34,301.70 414.70,303.70 415.20,302.70 415.70,303.57 416.20,302.80 416.70,303.80 417.26,301.84 417.70,300.29 418.30,298.26 418.77,300.66 419.34,302.92 420.00,305.14 420.39,303.65 421.08,302.02 421.37,300.44 422.00,298.73 422.40,301.12 422.99,303.56 423.51,305.97 424.00,308.30 424.49,310.36 424.99,312.18 425.57,314.53 426.00,316.30 426.48,318.17 426.92,319.95 427.46,321.42 428.00,323.20 428.50,321.61 428.99,320.98 429.38,319.59 430.00,318.40 430.51,319.78 431.11,319.65 431.68,320.25 432.14,322.44 432.70,322.30 433.06,321.12 433.59,319.58 434.00,318.30 434.66,316.01 435.00,314.01 435.66,312.01 436.00,309.70 436.55,309.30 437.02,309.52 437.51,308.34 438.00,307.56 438.51,309.04 439.08,310.86 439.53,311.88 440.00,313.69 440.43,313.63 440.87,315.47 441.30,313.65 441.79,314.44 442.30,315.38 442.78,316.33 443.11,317.36 443.77,318.63 444.18,319.19 444.70,319.79 445.25,318.39 445.74,316.94 446.26,315.42 446.70,313.70 446.99,311.69 447.31,309.73 447.77,307.69 448.08,305.80 448.47,303.68 448.70,301.70 449.13,299.50 449.56,297.25 450.00,295.00 450.29,292.95 450.27,290.88 450.55,288.82 450.69,286.75 450.82,284.69 451.02,282.61 451.30,280.59 451.40,282.67 451.76,284.76 452.11,286.84 452.17,288.93 452.34,291.01 452.49,293.09 452.70,295.17 453.15,293.73 453.74,293.98 454.24,292.79 454.79,291.93 455.30,290.89 455.62,292.78 456.08,294.81 456.52,296.72 456.96,298.66 457.30,300.69 457.61,298.52 458.23,296.20 458.56,293.89 458.68,291.55 459.30,289.41 459.79,290.87 460.30,291.46 460.81,292.60 461.30,293.96 461.54,291.74 461.97,289.53 462.28,287.33 462.70,285.17 462.72,287.31 462.81,289.44 462.98,291.56 462.98,293.69 462.90,295.83 462.85,297.96 463.12,300.08 463.01,302.22 463.00,304.35 463.26,306.48 463.07,308.61 463.19,310.74 463.39,312.87 463.30,315.00 463.34,317.18 463.37,319.35 463.40,321.53 463.49,323.70 463.63,325.88 463.91,328.05 463.74,330.23 463.94,332.40 463.82,334.58 463.92,336.76 464.01,338.93 464.00,341.11 464.29,338.90 464.67,336.67 465.05,334.49 465.41,332.24 465.70,330.00 465.71,327.79 465.73,325.57 465.81,323.36 465.69,321.14 465.88,318.93 465.92,316.72 465.89,314.51 465.85,312.29 465.95,310.08 466.00,307.87 466.43,309.94 466.62,311.96 467.06,314.06 467.30,316.10 467.47,313.93 467.68,311.76 467.55,309.57 467.75,307.40 467.89,305.22 467.89,303.04 468.25,300.88 468.36,298.71 468.25,296.52 468.52,294.35 468.39,292.17 468.70,290.00 468.87,288.00 469.07,285.98 469.50,284.00 469.97,282.61 470.49,282.53 471.00,281.70 471.06,279.47 471.24,277.25 471.37,275.03 471.59,272.81 471.57,270.58 471.65,268.35 471.89,266.13 471.84,263.90 472.11,261.68 471.97,259.45 472.37,257.23 472.30,255.00 472.36,252.75 472.27,250.49 472.65,248.24 472.36,245.99 472.36,243.74 472.49,241.48 472.32,239.23 472.52,236.98 472.58,234.72 472.52,232.47 472.50,230.22 472.42,227.96 472.42,225.71 472.47,223.46 472.59,221.21 472.69,218.95 472.60,216.70 472.78,214.40 472.70,212.08 472.82,209.77 472.97,207.47 473.06,205.16 473.24,202.85 473.09,200.53 473.40,198.23 473.95,200.18 474.12,202.15 474.62,204.04 475.00,206.00 475.05,208.25 475.19,210.50 475.11,212.75 475.25,215.00 475.43,217.24 475.45,219.49 475.48,221.74 475.52,223.99 475.62,226.24 475.67,228.49 475.92,230.73 475.88,232.99 475.96,235.23 475.87,237.49 475.91,239.74 476.17,241.98 476.30,244.23 476.30,246.48 476.38,244.21 476.64,241.94 476.73,239.67 476.91,237.40 476.95,235.13 477.00,232.86 477.25,230.60 477.45,228.34 477.50,226.06 478.01,226.72 478.50,228.00 478.73,230.28 478.90,232.56 478.86,234.85 479.24,237.14 479.57,239.42 479.76,241.68 479.93,243.98 480.36,246.25 480.48,248.53 480.60,250.83 480.78,248.55 480.85,246.27 481.06,243.98 481.18,241.70 481.10,239.39 481.31,237.13 481.56,234.85 481.67,232.57 481.86,230.29 482.00,228.00 482.21,225.73 482.28,223.43 482.39,221.14 482.42,218.84 482.63,216.56 482.97,214.29 483.00,212.00 483.39,209.90 483.65,207.77 483.81,205.62 484.12,203.46 484.53,201.42 484.63,199.25 485.00,197.09 485.55,198.40 486.20,200.00 486.21,202.12 486.24,204.24 486.44,206.35 486.28,208.48 486.34,210.59 486.53,212.71 486.45,214.83 486.51,216.95 486.55,219.07 486.60,221.18 486.56,218.90 487.14,216.66 486.92,214.36 487.11,212.09 487.40,209.83 487.46,211.96 487.53,214.08 487.56,216.21 487.82,218.32 487.79,220.45 487.97,222.57 488.13,224.69 488.09,226.82 488.16,228.95 488.22,231.07 488.44,233.19 488.38,235.32 488.50,237.44 488.75,235.23 488.94,233.03 489.23,230.83 489.32,228.62 489.58,226.43 489.76,224.20 490.00,222.00 490.22,219.74 490.51,217.49 490.61,215.23 491.13,212.96 491.11,210.67 491.49,208.39 491.70,206.16 492.20,204.49 492.70,208.16 493.20,204.77 493.70,206.70 493.76,208.90 494.10,211.07 494.12,213.27 494.44,215.44 494.53,217.62 494.69,219.82 495.00,222.00 495.45,223.07 496.05,224.53 496.45,225.72 497.00,227.30 497.09,229.38 497.18,231.46 497.39,233.54 497.42,235.62 497.72,237.70 497.86,239.77 498.08,241.84 498.36,243.91 498.30,246.00 498.69,248.18 499.08,250.49 499.27,252.67 499.49,254.94 500.00,257.18 500.30,259.41 500.26,257.22 500.37,255.04 500.60,252.86 500.69,250.68 500.70,248.49 500.76,246.30 500.71,244.12 500.83,241.94 500.82,239.75 501.00,237.57 501.35,239.86 501.54,242.20 501.93,244.46 502.28,246.75 502.50,249.11 502.75,246.84 502.97,244.56 502.98,242.27 503.19,239.98 503.28,237.71 503.25,235.39 503.46,233.13 503.70,230.85 503.72,233.01 503.90,235.16 504.07,237.31 504.23,239.46 504.25,241.63 504.65,243.76 504.62,245.93 504.65,248.09 504.80,250.23 505.16,252.39 505.03,254.54 505.15,256.71 505.40,258.85 505.33,256.70 505.61,254.57 505.79,252.42 505.86,250.27 506.24,248.14 506.30,246.00 506.56,244.13 507.24,242.16 507.46,240.07 507.78,238.19 508.30,236.23 508.27,238.32 508.48,240.39 508.59,242.47 508.46,244.56 508.66,246.64 508.85,248.71 509.04,250.79 509.00,252.87 509.08,250.66 509.26,248.46 509.28,246.25 509.63,244.05 509.67,241.84 509.57,239.63 509.84,237.42 509.99,235.22 509.97,233.00 510.27,230.80 510.45,228.61 510.54,226.39 510.62,224.18 510.74,221.98 510.85,219.77 511.00,217.57 510.97,219.68 511.37,221.79 511.54,223.88 511.84,225.99 511.95,228.10 512.27,230.20 512.33,232.30 512.60,234.40 512.88,232.39 512.88,230.29 513.16,228.22 513.46,226.21 513.70,224.15 513.76,226.32 513.97,228.48 513.90,230.66 514.11,232.82 514.12,234.99 514.16,237.16 514.18,239.33 514.19,241.50 514.45,243.67 514.39,245.84 514.34,248.01 514.52,250.18 514.74,252.34 514.59,254.52 514.88,256.68 514.89,258.85 514.85,261.02 514.78,263.20 515.00,265.36 515.46,263.42 516.02,261.29 516.56,259.52 517.00,257.35 517.50,259.51 517.88,261.63 518.15,263.96 518.52,266.14 519.00,268.30 519.27,270.52 519.22,272.74 519.34,274.96 519.34,277.19 519.34,279.41 519.38,281.64 519.54,283.85 519.46,286.08 519.70,288.30 520.22,287.62 520.77,288.27 521.24,290.73 521.79,289.61 522.30,291.04 522.43,288.80 522.43,286.54 522.69,284.32 522.84,282.07 522.85,279.81 523.13,277.58 523.22,275.34 523.41,273.10 523.50,270.86 523.56,272.94 523.83,275.01 523.97,277.08 524.40,279.11 524.27,281.22 524.58,283.28 524.87,285.33 525.00,287.41 525.14,285.25 525.43,283.09 525.64,280.92 525.84,278.72 526.15,276.57 526.31,274.40 526.37,272.21 526.50,270.02 526.72,267.86 527.00,265.70 527.14,263.54 527.55,261.46 527.94,259.30 528.12,257.14 528.30,255.00 528.61,252.84 528.80,250.67 529.00,248.51 529.38,246.33 529.64,244.21 529.89,242.04 530.27,239.92 530.50,237.72 531.09,238.46 531.58,240.01 532.14,240.51 532.70,241.00 532.91,243.22 532.67,245.45 532.69,247.67 532.99,249.89 532.97,252.11 532.91,254.34 533.19,256.55 533.24,258.78 533.30,261.00 533.72,262.53 534.18,263.67 534.70,264.98 534.87,262.72 534.81,260.44 535.09,258.17 535.21,255.90 535.38,253.64 535.12,251.34 535.67,249.09 535.47,246.81 535.80,244.55 535.78,242.26 536.00,240.00 536.12,237.93 536.41,235.86 536.24,233.76 536.50,231.70 536.49,229.61 536.67,227.54 536.70,225.46 537.20,225.30 537.70,226.24 538.20,224.69 538.70,224.30 538.74,226.54 538.96,228.79 538.96,231.04 539.10,233.29 539.43,235.51 539.54,237.77 539.51,240.02 539.57,242.27 539.66,244.52 539.84,246.76 540.00,249.00 540.59,250.05 541.11,250.51 541.60,251.89 541.72,249.66 541.91,247.44 541.97,245.21 542.15,242.98 542.39,240.78 542.50,238.54 542.82,236.35 542.82,234.10 543.00,231.88 543.23,234.14 543.49,236.30 543.71,238.45 544.10,240.64 544.21,242.87 544.50,245.06 544.95,243.11 545.13,241.13 545.41,239.23 545.72,237.24 546.00,235.22 546.04,237.32 546.26,239.41 546.48,241.51 546.65,243.60 546.67,245.71 546.91,247.82 547.08,249.91 547.30,252.00 547.40,254.17 547.59,256.28 547.79,258.44 548.34,260.54 548.40,262.71 548.83,260.35 549.35,257.94 550.00,255.70 550.15,253.55 550.16,251.39 550.35,249.24 550.47,247.08 550.67,244.93 550.66,242.77 550.79,240.61 550.90,238.46 551.18,236.31 551.16,234.15 551.30,232.00 551.78,229.25 552.30,226.69 552.62,229.00 553.03,231.35 553.32,233.64 553.84,235.90 554.00,238.30 554.26,240.44 554.48,242.59 554.82,244.69 555.14,246.85 555.30,249.00 555.94,250.73 556.52,252.00 557.00,253.94 557.23,251.68 557.63,249.47 557.72,247.23 557.90,244.97 558.05,242.76 558.55,240.58 558.70,238.30 559.02,236.11 559.57,233.94 560.00,231.70 560.09,229.30 560.36,226.91 560.56,224.51 560.71,222.11 560.70,219.70 560.93,217.45 560.83,215.19 560.90,212.93 561.04,210.68 561.20,208.43 561.02,206.17 561.20,203.91 561.27,201.66 561.30,199.40 561.57,197.29 561.52,195.16 561.62,193.03 561.89,190.91 561.83,188.78 561.89,186.65 562.06,184.54 562.28,182.40 562.55,180.30 562.59,178.18 562.84,176.06 562.90,173.93 563.32,175.81 563.59,178.03 564.00,180.00 564.21,182.30 564.30,184.62 564.45,186.95 564.46,189.27 564.73,191.59 564.77,193.90 565.16,196.20 565.20,198.53 565.29,196.40 565.59,194.31 565.81,192.20 565.97,190.10 566.28,188.00 566.54,185.88 566.58,183.79 566.80,181.66 566.88,183.79 567.03,185.92 567.14,188.05 567.21,190.19 567.22,192.32 567.39,194.45 567.47,196.58 567.49,198.72 567.74,200.85 567.74,202.98 567.85,205.12 568.07,207.24 568.13,209.38 568.17,211.51 568.30,213.64 568.58,211.49 568.61,209.30 568.88,207.16 569.24,205.00 569.41,202.86 569.34,200.66 569.73,198.52 569.82,196.34 569.97,194.16 570.20,192.00 570.34,189.90 570.45,187.78 570.61,185.66 570.76,183.56 570.80,181.44 570.93,179.32 571.15,177.22 571.17,175.10 571.40,173.00 571.61,170.70 571.78,168.39 571.90,166.07 572.28,163.78 572.40,161.47 572.68,159.18 572.90,156.87 573.02,154.56 573.30,152.25 573.85,151.27 574.30,150.60 574.27,152.74 574.36,154.88 574.22,157.02 574.39,159.16 574.34,161.30 574.48,163.44 574.47,165.58 574.47,167.72 574.47,169.86 574.60,172.00 574.70,174.19 574.88,176.39 574.86,178.59 575.03,180.78 574.99,182.98 575.20,185.17 575.34,182.95 575.40,180.71 575.70,178.51 575.73,176.27 575.88,174.06 576.00,171.83 576.20,174.12 576.07,176.43 576.12,178.72 576.30,181.02 576.40,183.31 576.52,185.61 576.60,187.91 576.71,190.21 576.86,192.50 576.90,194.80 577.33,194.48 577.70,193.23 577.51,190.93 577.60,188.62 577.98,186.32 577.76,184.02 577.52,181.71 577.47,179.41 577.74,177.10 577.80,174.80 577.90,176.86 577.96,178.93 578.16,181.01 578.37,183.06 578.54,185.12 578.60,187.18 578.76,184.92 578.83,182.67 578.93,180.41 578.86,178.15 578.79,175.88 579.05,173.63 579.25,171.38 579.16,169.11 579.20,166.85 579.56,168.91 579.68,170.99 579.94,173.07 580.20,175.13 580.24,172.74 580.30,170.37 580.50,167.98 580.81,165.62 580.96,163.25 581.00,160.87 581.06,163.21 581.49,165.50 581.77,167.83 582.00,170.13 582.32,167.90 582.17,165.65 582.51,163.41 582.49,161.16 582.74,158.94 582.76,156.69 583.03,154.45 583.10,152.22 583.58,151.37 584.00,150.60 583.79,152.71 584.01,154.83 583.95,156.95 583.89,159.07 584.02,161.19 583.70,163.30 583.90,165.42 583.88,167.53 583.66,169.65 583.82,171.77 583.76,173.88 583.70,176.00 583.55,178.17 583.73,180.34 583.70,182.50 584.00,184.67 583.75,186.84 583.84,189.01 583.94,191.17 583.83,193.34 583.90,195.51 584.00,193.32 584.13,191.14 584.08,188.94 584.36,186.76 584.46,184.57 584.33,182.38 584.46,180.19 584.60,178.00 584.70,175.97 584.81,173.94 584.79,171.92 585.09,169.89 585.10,167.86 585.30,165.85 585.53,168.07 585.57,170.36 585.80,172.59 585.89,174.83 586.10,177.09 586.50,175.15 586.65,173.28 587.00,171.40 587.17,169.23 587.08,167.04 587.14,164.87 587.25,162.69 587.29,160.51 587.25,158.34 587.33,156.16 587.53,153.99 587.45,151.80 587.38,149.63 587.45,147.45 587.46,145.27 587.62,143.10 587.64,140.92 587.56,138.74 587.70,136.56 587.74,134.38 587.80,132.21 588.30,134.34 588.61,136.48 589.11,138.65 589.60,140.77 589.67,138.52 589.79,136.28 589.95,134.03 590.11,131.79 590.15,129.55 590.26,127.29 590.30,125.05 590.34,122.79 590.54,120.55 590.56,118.30 590.65,116.05 590.80,113.81 590.88,115.99 591.09,118.16 590.86,120.35 591.07,122.53 591.24,124.70 591.38,126.88 591.27,129.06 591.40,131.24 591.39,133.42 591.50,135.60" transform="translate(0,-0.75)"/>
<polyline points="0.00,399.30 0.50,399.67 1.00,398.48 1.50,398.37 2.00,398.40 2.47,399.26 2.97,399.72 3.49,400.25 4.00,400.70 4.53,401.79 4.99,401.96 5.53,400.53 6.00,402.40 6.46,401.61 6.95,401.68 7.42,400.79 7.89,401.39 8.35,402.25 8.83,401.45 9.30,400.00 9.81,399.97 10.31,400.92 10.79,401.69 11.30,402.00 11.85,401.86 12.39,403.92 12.94,403.77 13.45,403.13 14.00,404.70 14.47,405.90 14.93,403.84 15.41,403.07 15.89,403.66 16.35,404.39 16.83,404.30 17.30,403.00 17.83,403.72 18.38,402.38 18.91,403.41 19.46,403.09 20.00,404.70 20.47,404.21 20.94,403.25 21.42,405.51 21.88,406.11 22.36,403.75 22.83,404.83 23.30,405.91 23.71,403.37 24.30,400.77 24.76,401.41 25.25,402.08 25.70,402.74 26.21,403.17 26.70,403.30 27.28,404.59 27.70,405.14 28.34,405.39 28.75,405.77 29.30,407.30 29.83,406.65 30.32,405.83 30.95,404.32 31.47,403.60 32.00,402.40 32.50,403.64 33.02,403.65 33.46,404.61 34.00,405.30 34.52,405.45 35.11,403.97 35.59,403.61 36.16,403.00 36.70,402.70 37.18,401.29 37.65,400.80 38.11,402.84 38.59,402.93 39.06,401.87 39.53,402.18 40.00,401.30 40.49,400.79 41.02,400.01 41.52,399.66 42.00,398.70 42.49,398.62 42.91,397.62 43.38,398.31 43.84,397.48 44.30,396.78 44.75,398.22 45.51,400.27 46.00,402.00 46.50,402.57 47.00,403.30 47.50,402.51 47.98,403.73 48.51,403.58 49.00,403.96 49.53,403.86 50.00,404.70 50.55,403.26 51.08,404.76 51.63,404.86 52.14,402.75 52.70,402.70 53.19,402.33 53.74,400.05 54.24,399.98 54.70,400.00 55.20,398.29 55.70,401.80 56.20,400.52 56.70,400.54 57.20,402.24 57.70,400.13 58.20,399.06 58.70,400.70 59.13,401.26 59.62,402.35 60.07,402.98 60.59,402.61 61.00,404.00 61.48,402.91 61.88,401.98 62.42,402.39 62.89,400.97 63.30,400.70 63.84,399.66 64.38,403.03 64.92,403.25 65.46,401.55 66.00,402.00 66.48,402.08 67.08,400.34 67.63,400.26 68.20,398.82 68.70,398.70 69.20,400.33 69.70,398.13 70.20,399.44 70.70,398.16 71.20,397.50 71.70,397.15 72.20,398.49 72.70,397.30 73.20,397.08 73.70,398.78 74.20,399.60 74.70,398.70 75.22,398.33 75.80,397.81 76.23,396.65 76.71,395.00 77.30,394.70 77.66,392.91 78.21,390.98 78.79,389.14 79.30,387.30 79.84,387.49 80.38,387.12 80.92,388.28 81.46,385.14 82.00,386.70 82.46,385.14 82.89,383.25 83.57,381.79 84.00,380.00 84.43,377.89 84.88,375.63 85.30,373.54 85.78,375.79 85.92,378.11 86.43,380.37 86.70,382.70 87.15,384.85 87.45,387.04 87.87,389.19 88.00,391.38 88.54,389.44 89.08,390.75 89.62,389.81 90.16,390.23 90.70,390.70 91.19,389.22 91.61,387.61 92.00,386.00 92.51,386.34 93.00,383.56 93.51,386.33 94.00,384.70 94.51,384.88 94.96,384.54 95.49,387.90 96.00,386.73 96.44,385.11 97.13,383.39 97.54,381.80 98.00,380.00 98.47,379.21 99.01,378.93 99.50,377.73 99.96,376.91 100.53,376.43 101.00,375.64 101.49,377.67 101.64,379.93 102.22,381.78 102.70,384.00 103.20,384.77 103.70,384.85 104.20,385.10 104.70,384.57 105.08,383.43 105.72,381.87 106.28,381.07 106.70,379.42 107.24,379.16 107.74,380.34 108.26,379.65 108.76,381.91 109.30,381.30 109.78,379.46 110.28,382.15 110.76,381.74 111.24,380.87 111.72,379.44 112.21,380.82 112.70,380.00 113.23,380.28 113.73,381.14 114.25,381.39 114.78,382.29 115.30,382.00 115.79,380.86 116.27,382.04 116.76,382.28 117.24,382.32 117.73,380.33 118.21,383.58 118.70,382.13 119.24,380.99 119.76,379.68 120.16,378.78 120.73,377.87 121.30,376.60 121.78,374.31 122.28,376.84 122.79,374.17 123.30,374.74 123.75,372.92 124.34,371.05 124.91,369.26 125.30,367.30 125.80,367.22 126.33,367.01 126.82,365.06 127.30,365.30 127.76,363.85 128.21,362.35 128.70,360.70 129.23,360.08 129.69,359.65 130.26,357.89 130.70,357.00 130.96,354.93 131.17,352.76 131.54,350.64 131.60,348.49 131.98,346.40 132.27,344.26 132.52,342.14 132.70,340.00 132.79,337.78 132.81,335.56 132.80,333.33 132.97,331.11 132.99,328.89 133.03,326.67 133.22,324.45 133.21,322.22 133.30,320.00 133.80,320.53 134.30,318.57 134.80,317.76 135.30,319.42 135.34,321.74 135.71,324.03 135.59,326.35 135.94,328.66 135.94,330.98 136.00,333.30 136.12,335.52 136.18,337.74 136.21,339.97 136.60,342.17 136.69,344.38 136.72,346.61 136.78,348.83 137.06,351.04 137.08,353.27 137.19,355.48 137.30,357.71 137.85,356.01 138.29,354.13 138.79,352.16 139.30,350.70 139.45,348.57 139.63,346.46 140.01,344.33 140.21,342.23 140.51,340.13 140.70,338.00 141.20,336.73 141.69,335.88 142.24,334.95 142.70,333.81 142.95,335.96 143.11,338.14 143.36,340.32 143.49,342.50 143.58,344.68 143.60,346.87 144.00,349.03 144.58,346.80 145.09,344.38 145.44,342.26 146.00,340.00 146.38,338.05 146.68,335.97 147.05,333.92 147.36,331.84 147.69,329.77 148.07,327.74 148.30,325.72 148.76,328.09 149.28,330.20 149.65,332.46 150.28,334.68 150.70,336.92 151.24,335.09 151.64,333.25 152.32,331.24 152.70,329.30 153.05,327.03 153.47,324.77 153.73,322.50 154.00,320.24 154.32,322.53 154.40,324.82 154.84,327.10 155.04,329.39 155.30,331.67 155.90,330.29 156.27,328.85 156.80,327.10 157.30,325.45 157.85,325.91 158.41,327.75 158.89,326.11 159.49,326.26 160.00,328.00 160.41,330.12 161.00,332.24 161.51,334.31 162.00,336.52 162.44,334.80 162.86,333.37 163.30,331.76 163.72,333.86 164.29,335.97 164.72,338.18 165.08,340.21 165.60,342.31 165.80,340.25 166.00,338.21 166.35,336.19 166.62,334.18 166.75,332.08 167.30,330.04 167.30,328.00 167.78,327.40 168.31,326.86 168.79,326.15 169.30,325.30 169.58,323.00 169.69,320.64 170.14,318.34 170.33,316.05 170.70,313.74 171.26,315.51 171.69,317.21 172.23,318.87 172.88,320.54 173.30,322.29 173.54,319.96 173.69,317.64 173.82,315.31 174.27,312.99 174.31,310.65 174.64,308.34 174.70,306.00 175.08,303.99 175.30,302.00 175.45,300.02 175.98,297.96 176.20,296.00 176.66,293.67 177.04,291.35 177.40,289.00 177.46,286.74 177.94,284.51 177.91,282.23 178.20,280.00 178.16,277.55 178.51,275.12 178.45,272.68 178.50,270.23 178.80,270.22 178.88,272.44 178.80,274.67 178.98,276.89 178.87,279.11 179.05,281.33 179.00,283.56 178.99,285.78 179.00,288.00 179.15,290.03 179.11,292.06 179.28,294.08 179.47,296.11 179.60,298.13 179.96,296.08 180.04,294.01 180.14,291.93 180.50,289.88 180.70,291.90 180.88,293.91 180.92,295.95 181.11,297.98 181.20,300.00 181.57,302.02 181.90,304.10 182.06,301.88 182.07,299.67 182.33,297.47 182.40,295.26 182.51,293.06 182.60,290.84 182.84,293.18 183.01,295.49 183.11,297.84 183.30,300.16 183.30,298.08 183.60,296.04 183.72,293.99 183.80,291.92 183.90,289.86 183.99,291.90 184.10,293.93 184.46,295.93 184.60,298.00 185.30,301.07 185.48,298.90 185.59,296.73 185.60,294.54 185.65,292.35 185.74,290.18 185.90,288.00 186.10,285.89 186.28,283.78 186.50,281.66 187.00,282.92 186.95,285.33 186.93,287.75 187.12,290.17 186.95,292.58 187.00,295.00 186.93,297.33 187.22,299.66 187.10,302.00 187.25,304.18 187.45,306.33 187.79,308.50 187.83,310.66 187.98,312.84 188.20,315.00 188.40,317.40 188.72,319.76 189.02,322.21 189.12,324.61 189.50,327.00 189.95,328.49 190.41,328.45 190.81,328.56 191.30,329.00 191.28,331.17 191.48,333.33 191.59,335.49 191.47,337.66 191.85,339.82 192.00,341.98 191.95,344.15 192.05,346.31 192.13,348.47 192.37,350.63 192.40,352.80 192.71,355.08 192.95,357.32 193.19,359.63 193.52,361.87 193.80,364.12 194.25,364.63 194.70,366.26 195.14,362.86 195.60,364.82 195.86,362.29 196.22,359.76 196.40,357.20 196.47,355.08 196.61,352.96 196.60,350.83 196.80,348.71 196.90,346.60 197.33,345.91 197.77,345.46 198.20,346.26 198.57,348.12 198.80,350.00 199.10,351.91 199.21,349.58 199.44,347.27 199.36,344.93 199.31,342.60 199.59,340.27 199.82,337.95 199.93,335.63 200.00,333.30 200.10,330.95 200.63,328.60 200.85,326.29 201.08,323.95 201.30,321.60 201.36,323.74 201.57,325.88 201.76,328.01 202.01,330.16 202.13,332.29 202.45,334.41 202.51,336.57 202.70,338.70 203.20,339.52 203.70,340.73 204.20,338.39 204.70,339.25 205.00,337.12 205.12,334.96 205.34,332.84 205.62,330.68 205.85,328.56 205.94,326.42 206.23,324.27 206.55,322.17 206.70,320.00 206.90,317.92 207.14,315.88 207.44,313.79 207.68,311.70 208.00,309.61 207.98,311.84 208.41,314.09 208.57,316.33 208.55,318.59 209.08,320.81 209.27,323.06 209.30,325.30 209.62,327.24 209.74,329.20 210.24,331.06 210.40,333.07 210.73,330.98 210.78,328.84 211.13,326.74 211.11,324.58 211.62,322.51 211.85,320.35 212.00,318.26 212.49,320.36 213.00,322.37 213.35,320.21 213.19,318.03 213.41,315.86 213.54,313.69 213.57,311.51 213.67,309.34 213.61,307.16 213.90,304.99 213.99,302.82 213.99,300.64 214.24,298.48 214.30,296.30 214.79,294.69 215.35,294.74 215.80,293.63 216.30,292.87 216.56,294.97 216.95,297.05 217.19,299.16 217.52,301.29 217.70,303.39 217.78,301.17 218.01,298.95 218.42,296.75 218.43,294.51 218.71,292.28 218.84,290.08 219.06,287.86 219.37,285.66 219.58,283.44 219.70,281.21 219.98,283.32 220.22,285.42 220.47,287.51 220.73,289.66 221.04,291.76 221.15,293.89 221.27,295.97 221.70,298.11 221.83,295.93 222.09,293.81 221.92,291.61 222.35,289.46 222.50,287.28 222.60,285.13 222.60,287.36 222.77,289.59 222.79,291.82 222.92,294.05 223.24,296.28 223.09,298.52 223.28,300.74 223.22,302.98 223.24,305.22 223.53,307.43 223.45,309.68 223.53,311.91 223.70,314.13 223.90,312.03 224.28,309.97 224.29,307.86 224.92,305.89 224.89,303.72 225.22,301.66 225.56,299.60 225.70,297.51 226.21,299.02 226.71,298.49 227.20,298.43 227.70,299.10 227.95,296.86 227.97,294.59 228.24,292.38 228.56,290.17 228.83,287.94 229.00,285.70 229.37,283.31 229.70,280.96 230.30,278.65 230.46,280.86 230.71,283.06 230.82,285.27 231.03,287.48 231.28,289.69 231.55,291.87 231.70,294.08 231.95,291.77 232.47,289.58 232.66,287.25 233.08,284.98 233.30,282.66 233.54,284.59 234.03,286.59 234.20,288.57 234.73,290.47 235.00,292.46 235.48,291.34 236.05,290.81 236.50,291.43 237.00,289.70 237.25,287.63 237.23,285.54 237.58,283.48 237.69,281.40 237.77,279.31 237.91,277.24 237.88,275.15 238.18,273.08 238.30,271.00 238.41,268.80 238.77,266.62 238.75,264.39 239.04,262.21 239.00,260.00 239.22,257.76 239.44,255.54 239.67,253.34 239.89,251.12 240.03,248.90 240.27,246.64 240.54,244.43 240.69,242.21 241.00,240.00 241.29,237.78 241.51,235.63 241.84,233.40 242.05,231.20 242.30,229.00 242.40,226.72 242.49,224.42 242.60,222.14 242.76,219.86 242.81,217.58 242.80,215.28 243.00,213.00 243.14,210.65 243.35,208.40 243.72,206.08 243.91,203.82 244.30,201.53 243.83,201.01 243.37,203.32 242.90,202.96 242.43,201.77 241.97,203.30 241.50,201.50 241.70,203.61 241.81,205.72 242.05,207.80 242.22,209.91 242.22,212.04 242.50,214.14 242.55,211.76 242.92,209.38 243.17,207.02 243.36,204.63 243.38,202.26 243.50,199.87 243.75,202.31 243.94,204.72 244.30,207.16 244.22,204.94 244.34,202.73 244.47,200.52 244.48,198.30 244.48,196.09 244.65,193.88 244.59,191.66 244.61,189.45 244.82,187.24 244.84,185.02 244.80,182.81 244.83,185.11 245.20,187.39 245.26,189.70 245.36,191.99 245.40,194.29 245.53,196.58 245.61,198.88 245.80,201.17 245.92,199.09 246.11,197.03 245.93,194.95 246.24,192.89 246.30,190.81 246.47,192.96 246.44,195.12 246.51,197.27 246.59,199.42 246.51,201.58 246.53,203.74 246.80,205.88 246.87,208.03 246.95,210.19 246.90,212.35 247.00,214.50 247.10,212.26 247.19,210.02 247.35,207.78 247.20,205.54 247.44,203.31 247.36,201.06 247.60,198.83 247.80,201.49 248.00,204.18 248.01,202.03 248.22,199.89 248.10,197.74 248.29,195.60 248.32,193.45 248.44,191.31 248.47,189.16 248.51,187.02 248.49,184.87 248.63,182.73 248.66,180.58 248.66,178.43 248.75,176.29 249.00,174.15 248.90,172.00 249.17,169.81 249.12,167.60 249.28,165.41 249.17,163.20 249.30,161.00 249.37,158.80 249.37,156.60 249.32,154.40 249.49,152.20 249.60,150.00 249.58,148.00 249.78,146.00 249.62,144.00 249.80,142.00 250.33,139.97 250.62,137.92 251.20,136.00 251.14,133.75 251.18,131.50 251.24,129.25 251.32,127.00 251.16,124.75 251.18,122.50 251.33,120.25 251.28,118.00 251.20,115.75 251.17,113.50 251.19,111.25 251.17,109.00 251.34,106.75 251.30,104.50 251.02,102.25 251.30,100.00 251.50,97.86 251.56,95.72 251.67,93.57 251.74,91.43 251.58,89.28 251.68,87.14 251.90,85.00 252.06,82.73 251.92,80.45 252.26,78.19 252.21,75.91 252.64,73.65 252.53,71.36 252.65,69.09 252.87,66.82 252.75,64.54 252.95,62.27 253.10,60.00 253.14,57.79 253.23,55.58 253.16,53.38 253.09,51.17 253.27,48.96 253.21,46.75 253.04,44.54 253.22,42.34 253.10,40.13 253.20,37.92 253.40,37.92 253.32,40.06 253.48,42.19 253.45,44.33 253.35,46.47 253.35,48.61 253.45,50.75 253.46,52.89 253.24,55.03 253.41,57.17 253.44,59.31 253.53,61.44 253.45,63.58 253.22,65.72 253.22,67.86 253.40,70.00 253.26,72.22 253.29,74.44 253.43,76.67 253.18,78.89 253.47,81.11 253.39,83.33 253.42,85.56 253.48,87.78 253.30,90.00 253.35,92.22 253.60,94.44 253.57,96.67 253.43,98.89 253.43,101.11 253.64,103.33 253.68,105.56 253.57,107.78 253.50,110.00 253.51,112.27 253.57,114.55 253.61,116.82 253.69,119.09 253.78,121.36 253.42,123.64 253.75,125.91 253.74,128.18 253.74,130.45 253.64,132.73 253.70,135.00 253.82,137.20 253.62,139.40 253.88,141.60 253.94,143.80 253.95,146.00 253.84,148.20 253.92,150.40 254.02,152.60 254.02,154.80 254.14,157.00 254.00,159.20 254.14,156.96 254.12,154.71 254.37,152.47 254.50,150.23 254.49,147.98 254.42,145.73 254.69,143.49 254.86,141.25 254.97,139.01 255.01,136.76 255.38,134.53 255.44,132.28 255.54,130.04 255.64,127.80 255.80,125.55 255.80,123.30 255.94,125.48 255.77,127.65 256.03,129.82 256.02,132.00 256.05,134.17 256.12,136.34 256.10,138.52 256.14,140.69 256.16,142.86 256.29,145.03 256.21,147.21 256.39,149.38 256.40,151.55 256.46,153.73 256.60,155.90 256.50,158.07 256.90,158.68 257.30,158.07 257.39,155.87 257.44,153.66 257.53,151.46 257.58,149.25 257.34,147.04 257.69,144.85 257.59,142.64 257.63,140.43 257.73,138.23 257.92,136.03 258.00,133.82 258.03,131.62 257.92,129.41 257.94,127.20 258.00,125.00 258.07,122.89 258.30,120.79 258.18,118.68 258.29,116.57 258.26,114.46 258.22,112.36 258.50,110.26 258.58,108.15 258.79,106.05 258.74,103.94 258.80,101.83 259.03,104.17 259.06,106.52 259.36,108.84 259.50,111.17 259.48,108.92 259.50,106.67 259.81,104.43 259.69,102.18 259.78,99.92 259.79,97.68 260.14,95.43 259.98,93.18 260.37,90.94 260.14,88.68 260.20,86.43 260.51,84.19 260.40,81.93 260.90,81.94 261.07,84.11 261.30,86.28 261.33,88.46 261.50,90.62 261.41,92.80 261.48,94.98 261.77,97.14 261.69,99.31 261.70,101.50 261.91,103.65 262.16,105.82 262.20,108.00 262.14,110.13 262.37,112.25 262.35,114.37 262.54,116.50 262.37,118.63 262.40,120.75 262.62,122.87 262.55,125.00 262.62,127.27 262.55,129.55 262.52,131.82 262.40,134.09 262.54,136.36 262.74,138.64 262.46,140.91 262.68,143.18 262.53,145.45 262.48,147.73 262.55,150.00 262.64,152.23 262.65,154.47 262.54,156.70 262.46,158.94 262.45,161.17 262.55,163.41 262.64,165.64 262.59,167.88 262.28,170.11 262.50,172.35 262.65,174.58 262.56,176.82 262.43,179.05 262.48,181.29 262.59,183.52 262.58,185.76 262.57,187.99 262.60,190.22 262.48,188.03 262.51,185.84 262.83,183.65 262.79,181.46 263.11,179.28 262.99,177.08 262.91,174.88 263.09,172.69 263.15,170.51 263.56,168.32 263.34,166.13 263.40,163.93 263.64,161.75 263.55,159.55 263.63,157.36 263.50,155.16 263.78,152.98 263.80,150.79 263.83,152.98 263.91,155.17 264.06,157.36 263.89,159.55 264.00,161.74 264.09,163.93 264.07,166.12 264.12,168.31 264.16,170.50 263.97,172.70 264.19,174.88 264.13,177.07 264.24,179.26 264.16,181.46 264.31,183.64 264.51,185.83 264.41,188.02 264.50,190.21 264.53,187.98 264.63,185.75 264.66,183.52 264.87,181.30 264.81,179.06 264.92,176.83 264.99,174.60 265.06,172.37 264.98,170.14 265.33,167.92 265.39,165.68 265.23,163.44 265.24,161.21 265.38,158.99 265.25,156.75 265.73,154.53 265.64,152.30 265.66,150.06 265.70,147.83 265.87,149.97 266.01,152.13 266.16,154.27 266.35,156.42 266.46,158.56 266.64,160.72 266.78,162.86 267.00,165.00 267.14,167.27 267.11,169.55 267.29,171.82 267.33,174.09 267.54,176.36 267.56,178.64 267.75,180.90 267.68,183.18 267.81,185.46 267.92,187.72 268.00,190.00 268.13,192.22 268.21,194.43 268.26,196.65 268.50,198.87 268.51,201.09 268.67,203.31 268.77,205.54 269.00,207.75 269.17,209.96 269.20,212.18 269.38,209.92 269.22,207.65 269.51,205.39 269.55,203.12 269.47,200.86 269.48,198.59 269.85,196.33 269.84,194.06 269.68,191.79 269.85,189.53 270.00,187.27 270.00,185.00 270.10,182.73 270.16,180.46 270.29,178.18 270.31,175.91 270.54,173.64 270.39,171.36 270.56,169.09 270.76,166.82 270.78,164.55 270.70,162.27 270.90,160.00 271.34,158.03 271.80,156.00 272.06,154.00 272.26,151.95 272.70,150.00 272.81,147.76 272.77,145.52 272.92,143.28 272.77,141.04 272.95,138.80 272.74,136.55 272.98,134.32 273.00,132.08 273.03,134.32 273.33,136.55 273.04,138.80 273.07,141.04 273.08,143.28 273.00,145.52 273.26,147.76 273.30,150.00 273.58,151.98 273.78,154.00 274.07,156.00 274.20,158.00 274.45,160.41 274.65,162.81 274.99,165.20 275.33,167.57 275.70,170.00 276.00,172.20 276.38,174.38 276.69,176.57 277.17,178.76 277.30,181.00 277.54,183.10 277.77,185.21 277.80,187.34 278.10,189.46 278.16,191.57 278.33,193.67 278.63,195.79 278.86,197.88 279.00,200.00 279.11,202.20 279.31,204.40 279.45,206.60 279.48,208.80 279.65,210.99 279.99,213.18 279.97,215.40 280.27,217.58 280.30,219.79 280.53,217.80 280.88,215.91 281.22,213.99 281.50,212.00 281.72,210.01 282.18,208.01 282.44,205.99 282.61,203.97 282.95,202.08 283.30,200.00 283.34,197.82 283.50,195.64 283.64,193.46 283.75,191.28 283.61,189.09 283.90,186.91 284.09,184.73 284.08,182.55 284.03,180.36 284.07,178.17 284.35,176.00 284.38,173.81 284.49,171.63 284.61,169.45 284.71,167.27 284.76,165.09 284.86,162.91 284.69,160.72 284.94,158.54 285.16,156.36 285.14,154.18 285.30,152.00 285.78,151.70 286.30,150.42 286.78,151.04 287.30,149.99 287.64,152.00 287.82,153.95 288.23,155.98 288.39,158.02 288.70,160.00 288.68,162.19 288.86,164.38 288.80,166.57 288.84,168.76 288.94,170.95 289.25,173.13 289.09,175.32 289.28,177.51 289.09,179.70 289.30,181.89 289.09,179.67 289.42,177.49 289.61,175.30 289.69,173.11 289.75,170.91 289.95,168.71 290.19,166.53 290.13,164.32 290.18,162.12 290.57,159.94 290.46,157.73 290.70,155.54 290.76,157.71 291.16,159.85 291.09,162.04 291.11,164.20 291.47,166.35 291.45,168.52 291.59,170.67 291.78,172.84 292.00,175.00 292.12,177.19 292.43,179.35 292.47,181.54 292.74,183.70 292.99,185.89 292.99,188.06 293.28,190.24 293.30,192.42 293.47,190.12 293.82,187.81 294.03,185.48 294.16,183.17 294.30,180.86 294.62,178.58 294.55,176.21 295.00,173.92 295.30,171.63 295.56,173.74 295.90,175.80 296.16,177.92 296.50,180.00 296.86,182.15 297.00,184.30 297.05,186.49 297.24,188.64 297.46,190.80 297.59,192.99 297.65,195.16 298.00,197.30 298.24,199.50 298.41,201.72 298.30,203.96 298.85,206.13 298.93,208.36 298.97,210.58 298.97,212.79 299.30,215.00 299.41,217.27 299.32,219.53 299.59,221.80 299.66,224.07 299.44,226.34 299.49,228.60 299.57,230.87 299.70,233.13 299.55,235.40 299.63,237.67 299.53,239.94 299.69,242.20 299.77,244.47 299.70,246.74 300.18,245.25 300.79,243.92 301.17,242.28 301.70,240.69 301.79,242.90 301.94,245.10 302.10,247.29 302.10,249.51 302.30,251.70 302.75,252.47 303.23,252.23 303.70,253.00 303.96,255.21 303.87,257.43 304.07,259.65 304.24,261.87 304.10,264.09 304.33,266.30 304.40,268.52 304.46,270.74 304.43,272.96 304.68,275.17 304.77,277.39 304.78,279.61 305.03,281.82 305.00,284.04 305.48,282.08 305.92,279.93 306.44,277.74 307.00,275.70 307.04,273.45 307.24,271.21 307.17,268.96 307.40,266.72 307.31,264.46 307.45,262.22 307.51,259.97 307.72,257.73 307.67,255.48 307.90,253.23 307.98,250.98 307.97,248.74 308.14,246.49 308.02,244.24 308.03,241.99 308.20,239.74 308.30,237.50 308.75,236.55 309.16,236.21 309.60,236.00 309.56,238.13 309.85,240.23 309.92,242.36 310.03,244.48 310.21,246.59 310.22,248.71 310.46,250.82 310.47,252.94 310.67,255.06 310.90,257.18 310.89,259.30 311.00,261.42 311.34,259.36 311.51,257.35 311.85,255.29 312.10,253.28 312.30,251.23 312.46,253.49 312.81,255.71 313.14,257.86 313.45,260.06 313.70,262.30 313.89,264.53 314.08,266.80 314.17,269.05 314.32,271.30 314.64,273.52 314.88,275.78 315.00,278.04 315.54,278.81 316.08,278.87 316.62,277.88 317.16,277.83 317.70,278.30 317.88,276.18 318.14,274.15 318.49,272.06 318.52,269.95 318.89,267.89 318.98,265.79 319.24,263.71 319.44,261.60 319.70,259.54 320.13,259.46 320.54,258.43 321.00,258.00 321.11,260.33 321.43,262.67 321.48,265.00 321.83,267.32 322.08,269.63 322.05,271.99 322.30,274.30 322.87,273.75 323.43,272.97 324.00,275.00 324.46,276.70 325.03,278.29 325.45,279.90 326.00,281.46 326.26,279.26 326.38,277.02 326.59,274.81 326.81,272.58 327.07,270.36 327.42,268.15 327.61,265.94 327.70,263.70 328.20,263.54 328.70,264.83 329.20,264.23 329.70,263.93 330.11,266.00 330.40,268.06 331.03,270.04 331.33,272.19 331.70,274.30 332.02,276.40 332.20,278.49 332.62,280.52 332.93,282.67 333.30,284.70 333.47,287.08 333.78,289.54 334.07,291.88 334.45,294.31 334.70,296.70 335.00,298.96 335.44,301.27 335.81,303.55 336.03,305.81 336.48,308.05 336.70,310.36 337.02,308.06 337.40,305.80 337.38,303.51 337.78,301.26 338.00,298.97 338.43,300.97 338.82,302.97 339.40,305.03 339.58,307.05 340.00,309.05 340.12,306.89 340.35,304.74 340.63,302.57 340.73,300.42 340.86,298.28 340.97,296.10 341.19,293.96 341.34,291.78 341.60,289.64 341.98,292.05 342.47,294.51 342.94,296.86 343.30,299.30 343.57,301.51 343.90,303.72 343.95,305.93 344.26,308.09 344.70,310.32 345.21,308.12 345.51,305.90 345.85,303.64 346.27,301.55 346.70,299.30 347.26,298.37 347.72,297.38 348.21,297.51 348.80,296.09 349.30,295.21 349.57,297.20 349.66,299.26 350.08,301.26 350.33,303.27 350.55,305.27 350.70,307.30 351.19,308.73 351.68,309.86 352.17,311.59 352.78,312.74 353.30,314.00 353.85,315.82 354.39,317.67 354.79,319.66 355.30,321.38 355.85,320.40 356.28,318.98 356.78,317.91 357.30,316.70 357.55,314.63 357.98,312.50 358.50,310.44 359.03,308.41 359.30,306.31 359.51,308.53 360.01,310.65 360.20,312.81 360.63,314.95 360.96,317.12 361.30,319.30 361.84,320.83 362.30,322.04 362.91,323.49 363.48,324.45 364.00,326.00 364.45,324.88 364.88,324.54 365.30,325.05 365.66,322.86 365.77,320.69 365.82,318.49 366.03,316.26 366.36,314.11 366.48,311.88 366.70,309.71 367.20,311.22 367.72,312.75 368.31,314.23 368.70,315.88 369.33,313.87 369.67,311.53 370.23,309.52 370.70,307.30 370.98,305.12 371.15,302.95 371.47,300.80 371.61,298.62 371.75,296.44 372.00,294.25 372.43,296.56 372.73,298.84 373.26,301.09 373.59,303.47 374.00,305.78 374.12,303.58 374.10,301.37 374.44,299.18 374.65,297.00 374.68,294.78 374.81,292.59 375.06,290.39 375.25,288.20 375.30,286.00 375.57,283.91 375.74,281.83 375.88,279.70 376.14,277.61 376.18,275.49 376.44,273.40 376.70,271.30 377.20,271.14 377.70,271.05 378.19,271.45 378.70,270.39 378.87,272.63 379.17,274.84 379.37,277.10 379.58,279.33 380.01,281.52 380.00,283.78 380.35,281.57 380.52,279.30 381.08,277.10 381.30,274.90 381.54,277.05 381.66,279.22 381.71,281.37 381.79,283.54 382.13,285.71 382.24,287.85 382.45,290.01 382.63,292.17 382.70,294.33 383.26,292.36 383.60,290.50 384.13,288.28 384.70,286.28 384.88,288.53 385.10,290.77 385.07,293.03 385.54,295.26 385.70,297.50 385.80,299.76 386.00,302.00 386.45,303.99 386.88,305.79 387.30,307.81 387.86,305.52 388.39,303.23 388.84,301.01 389.30,298.70 389.65,296.40 390.30,294.52 390.79,292.34 391.54,290.22 392.00,288.02 392.20,290.02 392.52,292.04 392.75,294.05 393.06,296.02 393.30,298.04 393.66,295.76 393.97,293.39 394.47,291.15 394.88,288.78 395.30,286.60 395.41,288.69 395.38,290.77 395.56,292.86 395.57,294.95 395.59,297.03 395.71,299.12 395.92,301.20 395.98,303.28 396.00,305.37 396.43,303.18 396.99,301.13 397.48,299.00 397.79,296.87 398.30,294.68 398.60,296.85 398.80,299.05 398.93,301.24 399.24,303.43 399.62,305.59 399.78,307.81 400.00,310.00 400.52,307.96 401.00,305.82 401.53,303.71 402.00,301.70 402.40,299.24 402.89,296.80 403.44,294.39 404.00,292.01 404.50,293.93 405.03,295.84 405.49,297.91 406.00,299.97 406.51,297.85 406.98,298.85 407.43,297.87 408.00,297.50 408.39,299.74 408.92,301.95 409.19,304.15 409.54,306.43 410.00,308.66 410.50,306.53 411.04,304.49 411.58,302.44 412.00,300.30 412.39,298.72 412.93,297.19 413.30,295.66 413.62,297.70 414.01,299.59 414.34,301.70 414.70,303.70 415.20,302.70 415.70,303.57 416.20,302.80 416.70,303.80 417.26,301.84 417.70,300.29 418.30,298.26 418.77,300.66 419.34,302.92 420.00,305.14 420.39,303.65 421.08,302.02 421.37,300.44 422.00,298.73 422.40,301.12 422.99,303.56 423.51,305.97 424.00,308.30 424.49,310.36 424.99,312.18 425.57,314.53 426.00,316.30 426.48,318.17 426.92,319.95 427.46,321.42 428.00,323.20 428.50,321.61 428.99,320.98 429.38,319.59 430.00,318.40 430.51,319.78 431.11,319.65 431.68,320.25 432.14,322.44 432.70,322.30 433.06,321.12 433.59,319.58 434.00,318.30 434.66,316.01 435.00,314.01 435.66,312.01 436.00,309.70 436.55,309.30 437.02,309.52 437.51,308.34 438.00,307.56 438.51,309.04 439.08,310.86 439.53,311.88 440.00,313.69 440.43,313.63 440.87,315.47 441.30,313.65 441.79,314.44 442.30,315.38 442.78,316.33 443.11,317.36 443.77,318.63 444.18,319.19 444.70,319.79 445.25,318.39 445.74,316.94 446.26,315.42 446.70,313.70 446.99,311.69 447.31,309.73 447.77,307.69 448.08,305.80 448.47,303.68 448.70,301.70 449.13,299.50 449.56,297.25 450.00,295.00 450.29,292.95 450.27,290.88 450.55,288.82 450.69,286.75 450.82,284.69 451.02,282.61 451.30,280.59 451.40,282.67 451.76,284.76 452.11,286.84 452.17,288.93 452.34,291.01 452.49,293.09 452.70,295.17 453.15,293.73 453.74,293.98 454.24,292.79 454.79,291.93 455.30,290.89 455.62,292.78 456.08,294.81 456.52,296.72 456.96,298.66 457.30,300.69 457.61,298.52 458.23,296.20 458.56,293.89 458.68,291.55 459.30,289.41 459.79,290.87 460.30,291.46 460.81,292.60 461.30,293.96 461.54,291.74 461.97,289.53 462.28,287.33 462.70,285.17 462.72,287.31 462.81,289.44 462.98,291.56 462.98,293.69 462.90,295.83 462.85,297.96 463.12,300.08 463.01,302.22 463.00,304.35 463.26,306.48 463.07,308.61 463.19,310.74 463.39,312.87 463.30,315.00 463.34,317.18 463.37,319.35 463.40,321.53 463.49,323.70 463.63,325.88 463.91,328.05 463.74,330.23 463.94,332.40 463.82,334.58 463.92,336.76 464.01,338.93 464.00,341.11 464.29,338.90 464.67,336.67 465.05,334.49 465.41,332.24 465.70,330.00 465.71,327.79 465.73,325.57 465.81,323.36 465.69,321.14 465.88,318.93 465.92,316.72 465.89,314.51 465.85,312.29 465.95,310.08 466.00,307.87 466.43,309.94 466.62,311.96 467.06,314.06 467.30,316.10 467.47,313.93 467.68,311.76 467.55,309.57 467.75,307.40 467.89,305.22 467.89,303.04 468.25,300.88 468.36,298.71 468.25,296.52 468.52,294.35 468.39,292.17 468.70,290.00 468.87,288.00 469.07,285.98 469.50,284.00 469.97,282.61 470.49,282.53 471.00,281.70 471.06,279.47 471.24,277.25 471.37,275.03 471.59,272.81 471.57,270.58 471.65,268.35 471.89,266.13 471.84,263.90 472.11,261.68 471.97,259.45 472.37,257.23 472.30,255.00 472.36,252.75 472.27,250.49 472.65,248.24 472.36,245.99 472.36,243.74 472.49,241.48 472.32,239.23 472.52,236.98 472.58,234.72 472.52,232.47 472.50,230.22 472.42,227.96 472.42,225.71 472.47,223.46 472.59,221.21 472.69,218.95 472.60,216.70 472.78,214.40 472.70,212.08 472.82,209.77 472.97,207.47 473.06,205.16 473.24,202.85 473.09,200.53 473.40,198.23 473.95,200.18 474.12,202.15 474.62,204.04 475.00,206.00 475.05,208.25 475.19,210.50 475.11,212.75 475.25,215.00 475.43,217.24 475.45,219.49 475.48,221.74 475.52,223.99 475.62,226.24 475.67,228.49 475.92,230.73 475.88,232.99 475.96,235.23 475.87,237.49 475.91,239.74 476.17,241.98 476.30,244.23 476.30,246.48 476.38,244.21 476.64,241.94 476.73,239.67 476.91,237.40 476.95,235.13 477.00,232.86 477.25,230.60 477.45,228.34 477.50,226.06 478.01,226.72 478.50,228.00 478.73,230.28 478.90,232.56 478.86,234.85 479.24,237.14 479.57,239.42 479.76,241.68 479.93,243.98 480.36,246.25 480.48,248.53 480.60,250.83 480.78,248.55 480.85,246.27 481.06,243.98 481.18,241.70 481.10,239.39 481.31,237.13 481.56,234.85 481.67,232.57 481.86,230.29 482.00,228.00 482.21,225.73 482.28,223.43 482.39,221.14 482.42,218.84 482.63,216.56 482.97,214.29 483.00,212.00 483.39,209.90 483.65,207.77 483.81,205.62 484.12,203.46 484.53,201.42 484.63,199.25 485.00,197.09 485.55,198.40 486.20,200.00 486.21,202.12 486.24,204.24 486.44,206.35 486.28,208.48 486.34,210.59 486.53,212.71 486.45,214.83 486.51,216.95 486.55,219.07 486.60,221.18 486.56,218.90 487.14,216.66 486.92,214.36 487.11,212.09 487.40,209.83 487.46,211.96 487.53,214.08 487.56,216.21 487.82,218.32 487.79,220.45 487.97,222.57 488.13,224.69 488.09,226.82 488.16,228.95 488.22,231.07 488.44,233.19 488.38,235.32 488.50,237.44 488.75,235.23 488.94,233.03 489.23,230.83 489.32,228.62 489.58,226.43 489.76,224.20 490.00,222.00 490.22,219.74 490.51,217.49 490.61,215.23 491.13,212.96 491.11,210.67 491.49,208.39 491.70,206.16 492.20,204.49 492.70,208.16 493.20,204.77 493.70,206.70 493.76,208.90 494.10,211.07 494.12,213.27 494.44,215.44 494.53,217.62 494.69,219.82 495.00,222.00 495.45,223.07 496.05,224.53 496.45,225.72 497.00,227.30 497.09,229.38 497.18,231.46 497.39,233.54 497.42,235.62 497.72,237.70 497.86,239.77 498.08,241.84 498.36,243.91 498.30,246.00 498.69,248.18 499.08,250.49 499.27,252.67 499.49,254.94 500.00,257.18 500.30,259.41 500.26,257.22 500.37,255.04 500.60,252.86 500.69,250.68 500.70,248.49 500.76,246.30 500.71,244.12 500.83,241.94 500.82,239.75 501.00,237.57 501.35,239.86 501.54,242.20 501.93,244.46 502.28,246.75 502.50,249.11 502.75,246.84 502.97,244.56 502.98,242.27 503.19,239.98 503.28,237.71 503.25,235.39 503.46,233.13 503.70,230.85 503.72,233.01 503.90,235.16 504.07,237.31 504.23,239.46 504.25,241.63 504.65,243.76 504.62,245.93 504.65,248.09 504.80,250.23 505.16,252.39 505.03,254.54 505.15,256.71 505.40,258.85 505.33,256.70 505.61,254.57 505.79,252.42 505.86,250.27 506.24,248.14 506.30,246.00 506.56,244.13 507.24,242.16 507.46,240.07 507.78,238.19 508.30,236.23 508.27,238.32 508.48,240.39 508.59,242.47 508.46,244.56 508.66,246.64 508.85,248.71 509.04,250.79 509.00,252.87 509.08,250.66 509.26,248.46 509.28,246.25 509.63,244.05 509.67,241.84 509.57,239.63 509.84,237.42 509.99,235.22 509.97,233.00 510.27,230.80 510.45,228.61 510.54,226.39 510.62,224.18 510.74,221.98 510.85,219.77 511.00,217.57 510.97,219.68 511.37,221.79 511.54,223.88 511.84,225.99 511.95,228.10 512.27,230.20 512.33,232.30 512.60,234.40 512.88,232.39 512.88,230.29 513.16,228.22 513.46,226.21 513.70,224.15 513.76,226.32 513.97,228.48 513.90,230.66 514.11,232.82 514.12,234.99 514.16,237.16 514.18,239.33 514.19,241.50 514.45,243.67 514.39,245.84 514.34,248.01 514.52,250.18 514.74,252.34 514.59,254.52 514.88,256.68 514.89,258.85 514.85,261.02 514.78,263.20 515.00,265.36 515.46,263.42 516.02,261.29 516.56,259.52 517.00,257.35 517.50,259.51 517.88,261.63 518.15,263.96 518.52,266.14 519.00,268.30 519.27,270.52 519.22,272.74 519.34,274.96 519.34,277.19 519.34,279.41 519.38,281.64 519.54,283.85 519.46,286.08 519.70,288.30 520.22,287.62 520.77,288.27 521.24,290.73 521.79,289.61 522.30,291.04 522.43,288.80 522.43,286.54 522.69,284.32 522.84,282.07 522.85,279.81 523.13,277.58 523.22,275.34 523.41,273.10 523.50,270.86 523.56,272.94 523.83,275.01 523.97,277.08 524.40,279.11 524.27,281.22 524.58,283.28 524.87,285.33 525.00,287.41 525.14,285.25 525.43,283.09 525.64,280.92 525.84,278.72 526.15,276.57 526.31,274.40 526.37,272.21 526.50,270.02 526.72,267.86 527.00,265.70 527.14,263.54 527.55,261.46 527.94,259.30 528.12,257.14 528.30,255.00 528.61,252.84 528.80,250.67 529.00,248.51 529.38,246.33 529.64,244.21 529.89,242.04 530.27,239.92 530.50,237.72 531.09,238.46 531.58,240.01 532.14,240.51 532.70,241.00 532.91,243.22 532.67,245.45 532.69,247.67 532.99,249.89 532.97,252.11 532.91,254.34 533.19,256.55 533.24,258.78 533.30,261.00 533.72,262.53 534.18,263.67 534.70,264.98 534.87,262.72 534.81,260.44 535.09,258.17 535.21,255.90 535.38,253.64 535.12,251.34 535.67,249.09 535.47,246.81 535.80,244.55 535.78,242.26 536.00,240.00 536.12,237.93 536.41,235.86 536.24,233.76 536.50,231.70 536.49,229.61 536.67,227.54 536.70,225.46 537.20,225.30 537.70,226.24 538.20,224.69 538.70,224.30 538.74,226.54 538.96,228.79 538.96,231.04 539.10,233.29 539.43,235.51 539.54,237.77 539.51,240.02 539.57,242.27 539.66,244.52 539.84,246.76 540.00,249.00 540.59,250.05 541.11,250.51 541.60,251.89 541.72,249.66 541.91,247.44 541.97,245.21 542.15,242.98 542.39,240.78 542.50,238.54 542.82,236.35 542.82,234.10 543.00,231.88 543.23,234.14 543.49,236.30 543.71,238.45 544.10,240.64 544.21,242.87 544.50,245.06 544.95,243.11 545.13,241.13 545.41,239.23 545.72,237.24 546.00,235.22 546.04,237.32 546.26,239.41 546.48,241.51 546.65,243.60 546.67,245.71 546.91,247.82 547.08,249.91 547.30,252.00 547.40,254.17 547.59,256.28 547.79,258.44 548.34,260.54 548.40,262.71 548.83,260.35 549.35,257.94 550.00,255.70 550.15,253.55 550.16,251.39 550.35,249.24 550.47,247.08 550.67,244.93 550.66,242.77 550.79,240.61 550.90,238.46 551.18,236.31 551.16,234.15 551.30,232.00 551.78,229.25 552.30,226.69 552.62,229.00 553.03,231.35 553.32,233.64 553.84,235.90 554.00,238.30 554.26,240.44 554.48,242.59 554.82,244.69 555.14,246.85 555.30,249.00 555.94,250.73 556.52,252.00 557.00,253.94 557.23,251.68 557.63,249.47 557.72,247.23 557.90,244.97 558.05,242.76 558.55,240.58 558.70,238.30 559.02,236.11 559.57,233.94 560.00,231.70 560.09,229.30 560.36,226.91 560.56,224.51 560.71,222.11 560.70,219.70 560.93,217.45 560.83,215.19 560.90,212.93 561.04,210.68 561.20,208.43 561.02,206.17 561.20,203.91 561.27,201.66 561.30,199.40 561.57,197.29 561.52,195.16 561.62,193.03 561.89,190.91 561.83,188.78 561.89,186.65 562.06,184.54 562.28,182.40 562.55,180.30 562.59,178.18 562.84,176.06 562.90,173.93 563.32,175.81 563.59,178.03 564.00,180.00 564.21,182.30 564.30,184.62 564.45,186.95 564.46,189.27 564.73,191.59 564.77,193.90 565.16,196.20 565.20,198.53 565.29,196.40 565.59,194.31 565.81,192.20 565.97,190.10 566.28,188.00 566.54,185.88 566.58,183.79 566.80,181.66 566.88,183.79 567.03,185.92 567.14,188.05 567.21,190.19 567.22,192.32 567.39,194.45 567.47,196.58 567.49,198.72 567.74,200.85 567.74,202.98 567.85,205.12 568.07,207.24 568.13,209.38 568.17,211.51 568.30,213.64 568.58,211.49 568.61,209.30 568.88,207.16 569.24,205.00 569.41,202.86 569.34,200.66 569.73,198.52 569.82,196.34 569.97,194.16 570.20,192.00 570.34,189.90 570.45,187.78 570.61,185.66 570.76,183.56 570.80,181.44 570.93,179.32 571.15,177.22 571.17,175.10 571.40,173.00 571.61,170.70 571.78,168.39 571.90,166.07 572.28,163.78 572.40,161.47 572.68,159.18 572.90,156.87 573.02,154.56 573.30,152.25 573.85,151.27 574.30,150.60 574.27,152.74 574.36,154.88 574.22,157.02 574.39,159.16 574.34,161.30 574.48,163.44 574.47,165.58 574.47,167.72 574.47,169.86 574.60,172.00 574.70,174.19 574.88,176.39 574.86,178.59 575.03,180.78 574.99,182.98 575.20,185.17 575.34,182.95 575.40,180.71 575.70,178.51 575.73,176.27 575.88,174.06 576.00,171.83 576.20,174.12 576.07,176.43 576.12,178.72 576.30,181.02 576.40,183.31 576.52,185.61 576.60,187.91 576.71,190.21 576.86,192.50 576.90,194.80 577.33,194.48 577.70,193.23 577.51,190.93 577.60,188.62 577.98,186.32 577.76,184.02 577.52,181.71 577.47,179.41 577.74,177.10 577.80,174.80 577.90,176.86 577.96,178.93 578.16,181.01 578.37,183.06 578.54,185.12 578.60,187.18 578.76,184.92 578.83,182.67 578.93,180.41 578.86,178.15 578.79,175.88 579.05,173.63 579.25,171.38 579.16,169.11 579.20,166.85 579.56,168.91 579.68,170.99 579.94,173.07 580.20,175.13 580.24,172.74 580.30,170.37 580.50,167.98 580.81,165.62 580.96,163.25 581.00,160.87 581.06,163.21 581.49,165.50 581.77,167.83 582.00,170.13 582.32,167.90 582.17,165.65 582.51,163.41 582.49,161.16 582.74,158.94 582.76,156.69 583.03,154.45 583.10,152.22 583.58,151.37 584.00,150.60 583.79,152.71 584.01,154.83 583.95,156.95 583.89,159.07 584.02,161.19 583.70,163.30 583.90,165.42 583.88,167.53 583.66,169.65 583.82,171.77 583.76,173.88 583.70,176.00 583.55,178.17 583.73,180.34 583.70,182.50 584.00,184.67 583.75,186.84 583.84,189.01 583.94,191.17 583.83,193.34 583.90,195.51 584.00,193.32 584.13,191.14 584.08,188.94 584.36,186.76 584.46,184.57 584.33,182.38 584.46,180.19 584.60,178.00 584.70,175.97 584.81,173.94 584.79,171.92 585.09,169.89 585.10,167.86 585.30,165.85 585.53,168.07 585.57,170.36 585.80,172.59 585.89,174.83 586.10,177.09 586.50,175.15 586.65,173.28 587.00,171.40 587.17,169.23 587.08,167.04 587.14,164.87 587.25,162.69 587.29,160.51 587.25,158.34 587.33,156.16 587.53,153.99 587.45,151.80 587.38,149.63 587.45,147.45 587.46,145.27 587.62,143.10 587.64,140.92 587.56,138.74 587.70,136.56 587.74,134.38 587.80,132.21 588.30,134.34 588.61,136.48 589.11,138.65 589.60,140.77 589.67,138.52 589.79,136.28 589.95,134.03 590.11,131.79 590.15,129.55 590.26,127.29 590.30,125.05 590.34,122.79 590.54,120.55 590.56,118.30 590.65,116.05 590.80,113.81 590.88,115.99 591.09,118.16 590.86,120.35 591.07,122.53 591.24,124.70 591.38,126.88 591.27,129.06 591.40,131.24 591.39,133.42 591.50,135.60" transform="translate(0,0.75)"/>
</g>
</svg>
<div class="lbl" style="left:73px">2005</div>
<div class="lbl" style="left:192px">2010</div>
<div class="lbl" style="left:310px">2015</div>
<div class="lbl" style="left:429px">2020</div>
</body></html>
